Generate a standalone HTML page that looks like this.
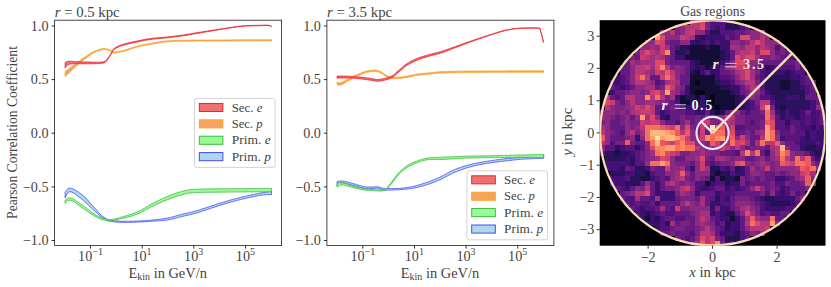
<!DOCTYPE html>
<html><head><meta charset="utf-8"><title>Pearson correlation</title>
<style>html,body{margin:0;padding:0;background:#fff;}body{width:831px;height:287px;overflow:hidden;position:relative;font-family:"Liberation Serif",serif;}</style>
</head><body>
<svg width="831" height="287" viewBox="0 0 831 287" style="position:absolute;left:0;top:0;font-family:'Liberation Serif',serif">
<rect width="831" height="287" fill="#fff"/>
<path d="M65.1,71.50 L66.4,70.59 L67.7,69.67 L69.0,68.74 L70.3,67.78 L71.6,66.80 L72.9,65.80 L74.2,64.80 L75.5,63.81 L76.8,62.84 L78.1,61.88 L79.4,60.91 L80.7,59.95 L82.0,59.00 L83.3,58.07 L84.6,57.16 L85.9,56.28 L87.2,55.45 L88.5,54.63 L89.8,53.80 L91.1,52.99 L92.4,52.22 L93.7,51.52 L95.0,50.92 L96.3,50.44 L97.6,49.98 L98.9,49.53 L100.1,49.13 L101.4,48.81 L102.7,48.59 L104.0,48.50 L105.3,48.57 L106.6,48.78 L107.9,49.09 L109.2,49.46 L110.5,50.02 L111.8,51.04 L113.1,51.91 L114.4,52.09 L115.7,51.98 L117.0,51.79 L118.3,51.54 L119.6,51.27 L120.9,51.00 L122.2,50.71 L123.5,50.39 L124.8,50.02 L126.1,49.62 L127.4,49.20 L128.7,48.77 L130.0,48.33 L131.3,47.89 L132.6,47.46 L133.9,47.04 L135.2,46.64 L136.5,46.28 L137.8,45.95 L139.1,45.65 L140.4,45.36 L141.7,45.07 L143.0,44.80 L144.3,44.53 L145.6,44.27 L146.9,44.02 L148.2,43.78 L149.5,43.55 L150.8,43.32 L152.1,43.10 L153.4,42.88 L154.7,42.65 L156.0,42.41 L157.3,42.18 L158.6,41.96 L159.9,41.74 L161.2,41.53 L162.5,41.34 L163.8,41.16 L165.1,41.01 L166.4,40.88 L167.7,40.77 L168.9,40.70 L170.2,40.65 L171.5,40.60 L172.8,40.55 L174.1,40.51 L175.4,40.46 L176.7,40.42 L178.0,40.39 L179.3,40.35 L180.6,40.32 L181.9,40.29 L183.2,40.26 L184.5,40.24 L185.8,40.21 L187.1,40.19 L188.4,40.17 L189.7,40.15 L191.0,40.14 L192.3,40.12 L193.6,40.11 L194.9,40.10 L196.2,40.09 L197.5,40.08 L198.8,40.07 L200.1,40.06 L201.4,40.05 L202.7,40.04 L204.0,40.03 L205.3,40.03 L206.6,40.02 L207.9,40.01 L209.2,40.00 L210.5,39.99 L211.8,39.98 L213.1,39.98 L214.4,39.97 L215.7,39.96 L217.0,39.95 L218.3,39.95 L219.6,39.94 L220.9,39.93 L222.2,39.93 L223.5,39.92 L224.8,39.91 L226.1,39.91 L227.4,39.90 L228.7,39.90 L230.0,39.89 L231.3,39.89 L232.6,39.88 L233.9,39.87 L235.2,39.87 L236.5,39.86 L237.7,39.86 L239.0,39.86 L240.3,39.85 L241.6,39.85 L242.9,39.84 L244.2,39.84 L245.5,39.84 L246.8,39.83 L248.1,39.83 L249.4,39.83 L250.7,39.82 L252.0,39.82 L253.3,39.82 L254.6,39.82 L255.9,39.81 L257.2,39.81 L258.5,39.81 L259.8,39.81 L261.1,39.81 L262.4,39.80 L263.7,39.80 L265.0,39.80 L266.3,39.80 L267.6,39.80 L268.9,39.80 L270.2,39.80 L271.5,39.80 L271.5,40.80 L270.2,40.80 L268.9,40.80 L267.6,40.80 L266.3,40.80 L265.0,40.80 L263.7,40.80 L262.4,40.80 L261.1,40.81 L259.8,40.81 L258.5,40.81 L257.2,40.81 L255.9,40.81 L254.6,40.82 L253.3,40.82 L252.0,40.82 L250.7,40.82 L249.4,40.83 L248.1,40.83 L246.8,40.83 L245.5,40.84 L244.2,40.84 L242.9,40.84 L241.6,40.85 L240.3,40.85 L239.0,40.86 L237.7,40.86 L236.5,40.86 L235.2,40.87 L233.9,40.87 L232.6,40.88 L231.3,40.89 L230.0,40.89 L228.7,40.90 L227.4,40.90 L226.1,40.91 L224.8,40.91 L223.5,40.92 L222.2,40.93 L220.9,40.93 L219.6,40.94 L218.3,40.95 L217.0,40.95 L215.7,40.96 L214.4,40.97 L213.1,40.98 L211.8,40.98 L210.5,40.99 L209.2,41.00 L207.9,41.01 L206.6,41.02 L205.3,41.03 L204.0,41.03 L202.7,41.04 L201.4,41.05 L200.1,41.06 L198.8,41.07 L197.5,41.08 L196.2,41.09 L194.9,41.10 L193.6,41.11 L192.3,41.12 L191.0,41.14 L189.7,41.15 L188.4,41.17 L187.1,41.19 L185.8,41.21 L184.5,41.24 L183.2,41.26 L181.9,41.29 L180.6,41.32 L179.3,41.35 L178.0,41.39 L176.7,41.42 L175.4,41.46 L174.1,41.51 L172.8,41.55 L171.5,41.60 L170.2,41.65 L168.9,41.70 L167.7,41.77 L166.4,41.88 L165.1,42.01 L163.8,42.16 L162.5,42.34 L161.2,42.53 L159.9,42.74 L158.6,42.96 L157.3,43.18 L156.0,43.41 L154.7,43.65 L153.4,43.88 L152.1,44.10 L150.8,44.32 L149.5,44.55 L148.2,44.78 L146.9,45.02 L145.6,45.27 L144.3,45.53 L143.0,45.80 L141.7,46.07 L140.4,46.36 L139.1,46.65 L137.8,46.95 L136.5,47.28 L135.2,47.64 L133.9,48.04 L132.6,48.46 L131.3,48.89 L130.0,49.33 L128.7,49.77 L127.4,50.20 L126.1,50.62 L124.8,51.02 L123.5,51.39 L122.2,51.71 L120.9,52.00 L119.6,52.27 L118.3,52.54 L117.0,52.79 L115.7,52.98 L114.4,53.09 L113.1,52.91 L111.8,52.04 L110.5,51.02 L109.2,50.46 L107.9,50.09 L106.6,49.78 L105.3,49.57 L104.0,49.50 L102.7,49.59 L101.4,49.83 L100.1,50.19 L98.9,50.63 L97.6,51.12 L96.3,51.62 L95.0,52.16 L93.7,52.83 L92.4,53.62 L91.1,54.48 L89.8,55.40 L88.5,56.34 L87.2,57.26 L85.9,58.20 L84.6,59.17 L83.3,60.17 L82.0,61.21 L80.7,62.26 L79.4,63.35 L78.1,64.45 L76.8,65.58 L75.5,66.73 L74.2,67.95 L72.9,69.21 L71.6,70.48 L70.3,71.73 L69.0,72.94 L67.7,74.13 L66.4,75.32 L65.1,76.50Z" fill="#f4a460" stroke="#ffa01a" stroke-width="0.72" stroke-linejoin="round"/>
<path d="M65.1,62.50 L66.4,61.70 L67.7,61.39 L69.0,61.24 L70.3,61.20 L71.6,61.27 L72.9,61.40 L74.2,61.55 L75.5,61.67 L76.8,61.73 L78.1,61.78 L79.4,61.82 L80.7,61.86 L82.0,61.89 L83.3,61.92 L84.6,61.95 L85.9,61.98 L87.2,62.00 L88.5,62.03 L89.8,62.07 L91.1,62.10 L92.4,62.13 L93.7,62.15 L95.0,62.18 L96.3,62.19 L97.6,62.20 L98.9,62.19 L100.1,62.13 L101.4,62.03 L102.7,61.89 L104.0,61.71 L105.3,61.11 L106.6,59.83 L107.9,58.14 L109.2,56.33 L110.5,54.38 L111.8,51.88 L113.1,49.59 L114.4,48.28 L115.7,47.40 L117.0,46.67 L118.3,46.08 L119.6,45.56 L120.9,45.09 L122.2,44.65 L123.5,44.24 L124.8,43.85 L126.1,43.49 L127.4,43.15 L128.7,42.83 L130.0,42.52 L131.3,42.23 L132.6,41.94 L133.9,41.67 L135.2,41.40 L136.5,41.13 L137.8,40.86 L139.1,40.59 L140.4,40.32 L141.7,40.06 L143.0,39.80 L144.3,39.55 L145.6,39.31 L146.9,39.08 L148.2,38.87 L149.5,38.67 L150.8,38.49 L152.1,38.33 L153.4,38.19 L154.7,38.05 L156.0,37.93 L157.3,37.81 L158.6,37.70 L159.9,37.60 L161.2,37.49 L162.5,37.39 L163.8,37.29 L165.1,37.18 L166.4,37.06 L167.7,36.94 L168.9,36.81 L170.2,36.66 L171.5,36.51 L172.8,36.36 L174.1,36.20 L175.4,36.04 L176.7,35.87 L178.0,35.70 L179.3,35.52 L180.6,35.34 L181.9,35.16 L183.2,34.97 L184.5,34.78 L185.8,34.58 L187.1,34.37 L188.4,34.15 L189.7,33.93 L191.0,33.71 L192.3,33.48 L193.6,33.26 L194.9,33.03 L196.2,32.80 L197.5,32.58 L198.8,32.36 L200.1,32.15 L201.4,31.94 L202.7,31.74 L204.0,31.53 L205.3,31.33 L206.6,31.14 L207.9,30.94 L209.2,30.74 L210.5,30.55 L211.8,30.35 L213.1,30.16 L214.4,29.96 L215.7,29.77 L217.0,29.57 L218.3,29.37 L219.6,29.17 L220.9,28.96 L222.2,28.76 L223.5,28.55 L224.8,28.35 L226.1,28.14 L227.4,27.94 L228.7,27.74 L230.0,27.55 L231.3,27.36 L232.6,27.18 L233.9,27.01 L235.2,26.83 L236.5,26.65 L237.7,26.47 L239.0,26.29 L240.3,26.12 L241.6,25.97 L242.9,25.84 L244.2,25.74 L245.5,25.68 L246.8,25.62 L248.1,25.57 L249.4,25.53 L250.7,25.49 L252.0,25.46 L253.3,25.43 L254.6,25.40 L255.9,25.37 L257.2,25.34 L258.5,25.31 L259.8,25.27 L261.1,25.23 L262.4,25.19 L263.7,25.16 L265.0,25.12 L266.3,25.11 L267.6,25.11 L268.9,25.30 L270.2,25.67 L271.5,26.10 L271.5,26.50 L270.2,26.07 L268.9,25.70 L267.6,25.51 L266.3,25.51 L265.0,25.52 L263.7,25.56 L262.4,25.59 L261.1,25.63 L259.8,25.67 L258.5,25.71 L257.2,25.74 L255.9,25.77 L254.6,25.80 L253.3,25.83 L252.0,25.86 L250.7,25.89 L249.4,25.93 L248.1,25.97 L246.8,26.02 L245.5,26.08 L244.2,26.14 L242.9,26.24 L241.6,26.37 L240.3,26.52 L239.0,26.68 L237.7,26.86 L236.5,27.05 L235.2,27.23 L233.9,27.41 L232.6,27.58 L231.3,27.77 L230.0,27.96 L228.7,28.16 L227.4,28.36 L226.1,28.57 L224.8,28.78 L223.5,28.99 L222.2,29.21 L220.9,29.42 L219.6,29.64 L218.3,29.86 L217.0,30.07 L215.7,30.28 L214.4,30.50 L213.1,30.72 L211.8,30.94 L210.5,31.16 L209.2,31.39 L207.9,31.61 L206.6,31.84 L205.3,32.06 L204.0,32.29 L202.7,32.51 L201.4,32.73 L200.1,32.95 L198.8,33.17 L197.5,33.40 L196.2,33.62 L194.9,33.85 L193.6,34.08 L192.3,34.30 L191.0,34.53 L189.7,34.75 L188.4,34.96 L187.1,35.17 L185.8,35.38 L184.5,35.58 L183.2,35.77 L181.9,35.95 L180.6,36.14 L179.3,36.31 L178.0,36.49 L176.7,36.66 L175.4,36.82 L174.1,36.99 L172.8,37.15 L171.5,37.30 L170.2,37.46 L168.9,37.61 L167.7,37.75 L166.4,37.89 L165.1,38.01 L163.8,38.14 L162.5,38.26 L161.2,38.38 L159.9,38.50 L158.6,38.62 L157.3,38.75 L156.0,38.88 L154.7,39.02 L153.4,39.17 L152.1,39.33 L150.8,39.50 L149.5,39.69 L148.2,39.89 L146.9,40.10 L145.6,40.33 L144.3,40.57 L143.0,40.81 L141.7,41.07 L140.4,41.33 L139.1,41.59 L137.8,41.86 L136.5,42.13 L135.2,42.40 L133.9,42.67 L132.6,42.94 L131.3,43.23 L130.0,43.52 L128.7,43.83 L127.4,44.15 L126.1,44.49 L124.8,44.85 L123.5,45.24 L122.2,45.65 L120.9,46.09 L119.6,46.56 L118.3,47.08 L117.0,47.67 L115.7,48.40 L114.4,49.28 L113.1,50.59 L111.8,52.86 L110.5,55.37 L109.2,57.34 L107.9,59.19 L106.6,60.92 L105.3,62.25 L104.0,62.91 L102.7,63.15 L101.4,63.34 L100.1,63.47 L98.9,63.56 L97.6,63.61 L96.3,63.66 L95.0,63.69 L93.7,63.72 L92.4,63.75 L91.1,63.77 L89.8,63.79 L88.5,63.80 L87.2,63.80 L85.9,63.80 L84.6,63.79 L83.3,63.77 L82.0,63.76 L80.7,63.74 L79.4,63.72 L78.1,63.71 L76.8,63.70 L75.5,63.70 L74.2,63.73 L72.9,63.78 L71.6,63.86 L70.3,63.97 L69.0,64.27 L67.7,65.00 L66.4,66.07 L65.1,67.90Z" fill="#ef7070" stroke="#ee1420" stroke-width="0.72" stroke-linejoin="round"/>
<path d="M65.1,192.30 L66.4,190.49 L67.7,188.95 L69.0,188.14 L70.3,188.16 L71.6,188.42 L72.9,188.86 L74.2,189.44 L75.5,190.14 L76.8,190.94 L78.1,191.81 L79.4,192.72 L80.7,193.64 L82.0,194.55 L83.3,195.57 L84.6,196.77 L85.9,198.11 L87.2,199.55 L88.5,201.06 L89.8,202.58 L91.1,204.09 L92.4,205.53 L93.7,206.89 L95.0,208.31 L96.3,209.78 L97.6,211.25 L98.9,212.69 L100.1,214.06 L101.4,215.32 L102.7,216.43 L104.0,217.36 L105.3,218.18 L106.6,218.94 L107.9,219.57 L109.2,220.01 L110.5,220.23 L111.8,220.42 L113.1,220.60 L114.4,220.76 L115.7,220.90 L117.0,221.01 L118.3,221.11 L119.6,221.19 L120.9,221.25 L122.2,221.29 L123.5,221.30 L124.8,221.30 L126.1,221.29 L127.4,221.27 L128.7,221.25 L130.0,221.22 L131.3,221.19 L132.6,221.15 L133.9,221.12 L135.2,221.08 L136.5,221.04 L137.8,220.99 L139.1,220.95 L140.4,220.89 L141.7,220.82 L143.0,220.74 L144.3,220.66 L145.6,220.57 L146.9,220.48 L148.2,220.38 L149.5,220.27 L150.8,220.16 L152.1,220.05 L153.4,219.93 L154.7,219.80 L156.0,219.66 L157.3,219.50 L158.6,219.34 L159.9,219.17 L161.2,218.99 L162.5,218.81 L163.8,218.61 L165.1,218.40 L166.4,218.19 L167.7,217.96 L168.9,217.72 L170.2,217.44 L171.5,217.13 L172.8,216.80 L174.1,216.45 L175.4,216.09 L176.7,215.72 L178.0,215.36 L179.3,215.01 L180.6,214.67 L181.9,214.35 L183.2,214.03 L184.5,213.73 L185.8,213.43 L187.1,213.13 L188.4,212.82 L189.7,212.52 L191.0,212.20 L192.3,211.88 L193.6,211.55 L194.9,211.20 L196.2,210.83 L197.5,210.45 L198.8,210.05 L200.1,209.64 L201.4,209.22 L202.7,208.80 L204.0,208.37 L205.3,207.94 L206.6,207.52 L207.9,207.09 L209.2,206.67 L210.5,206.25 L211.8,205.83 L213.1,205.40 L214.4,204.97 L215.7,204.54 L217.0,204.11 L218.3,203.69 L219.6,203.27 L220.9,202.86 L222.2,202.46 L223.5,202.07 L224.8,201.68 L226.1,201.30 L227.4,200.92 L228.7,200.55 L230.0,200.19 L231.3,199.82 L232.6,199.47 L233.9,199.12 L235.2,198.78 L236.5,198.44 L237.7,198.11 L239.0,197.78 L240.3,197.46 L241.6,197.15 L242.9,196.84 L244.2,196.53 L245.5,196.23 L246.8,195.93 L248.1,195.64 L249.4,195.36 L250.7,195.07 L252.0,194.79 L253.3,194.50 L254.6,194.22 L255.9,193.94 L257.2,193.66 L258.5,193.39 L259.8,193.13 L261.1,192.88 L262.4,192.64 L263.7,192.42 L265.0,192.22 L266.3,192.03 L267.6,191.86 L268.9,191.69 L270.2,191.54 L271.5,191.40 L271.5,194.50 L270.2,194.51 L268.9,194.55 L267.6,194.61 L266.3,194.69 L265.0,194.77 L263.7,194.86 L262.4,195.00 L261.1,195.17 L259.8,195.38 L258.5,195.62 L257.2,195.88 L255.9,196.15 L254.6,196.43 L253.3,196.72 L252.0,197.00 L250.7,197.27 L249.4,197.54 L248.1,197.82 L246.8,198.11 L245.5,198.40 L244.2,198.71 L242.9,199.02 L241.6,199.33 L240.3,199.65 L239.0,199.98 L237.7,200.31 L236.5,200.64 L235.2,200.98 L233.9,201.32 L232.6,201.67 L231.3,202.02 L230.0,202.39 L228.7,202.75 L227.4,203.12 L226.1,203.50 L224.8,203.88 L223.5,204.27 L222.2,204.66 L220.9,205.06 L219.6,205.47 L218.3,205.88 L217.0,206.31 L215.7,206.73 L214.4,207.16 L213.1,207.59 L211.8,208.02 L210.5,208.45 L209.2,208.87 L207.9,209.30 L206.6,209.73 L205.3,210.17 L204.0,210.61 L202.7,211.05 L201.4,211.49 L200.1,211.92 L198.8,212.34 L197.5,212.74 L196.2,213.13 L194.9,213.50 L193.6,213.84 L192.3,214.17 L191.0,214.49 L189.7,214.79 L188.4,215.09 L187.1,215.39 L185.8,215.68 L184.5,215.97 L183.2,216.26 L181.9,216.56 L180.6,216.86 L179.3,217.19 L178.0,217.54 L176.7,217.90 L175.4,218.26 L174.1,218.61 L172.8,218.95 L171.5,219.26 L170.2,219.53 L168.9,219.76 L167.7,219.94 L166.4,220.10 L165.1,220.24 L163.8,220.37 L162.5,220.50 L161.2,220.61 L159.9,220.71 L158.6,220.81 L157.3,220.91 L156.0,221.00 L154.7,221.09 L153.4,221.17 L152.1,221.26 L150.8,221.35 L149.5,221.44 L148.2,221.53 L146.9,221.61 L145.6,221.70 L144.3,221.78 L143.0,221.86 L141.7,221.93 L140.4,221.99 L139.1,222.05 L137.8,222.09 L136.5,222.13 L135.2,222.17 L133.9,222.21 L132.6,222.25 L131.3,222.29 L130.0,222.32 L128.7,222.35 L127.4,222.37 L126.1,222.39 L124.8,222.40 L123.5,222.40 L122.2,222.39 L120.9,222.36 L119.6,222.30 L118.3,222.23 L117.0,222.14 L115.7,222.03 L114.4,221.90 L113.1,221.76 L111.8,221.60 L110.5,221.42 L109.2,221.21 L107.9,220.78 L106.6,220.16 L105.3,219.43 L104.0,218.67 L102.7,217.85 L101.4,216.93 L100.1,215.91 L98.9,214.82 L97.6,213.69 L96.3,212.52 L95.0,211.35 L93.7,210.18 L92.4,209.03 L91.1,207.81 L89.8,206.53 L88.5,205.23 L87.2,203.92 L85.9,202.64 L84.6,201.42 L83.3,200.28 L82.0,199.26 L80.7,198.27 L79.4,197.24 L78.1,196.19 L76.8,195.17 L75.5,194.22 L74.2,193.36 L72.9,192.64 L71.6,192.10 L70.3,191.78 L69.0,191.75 L67.7,192.97 L66.4,195.25 L65.1,197.90Z" fill="#add8e6" stroke="#3a3aff" stroke-width="0.72" stroke-linejoin="round"/>
<path d="M65.1,200.10 L66.4,199.11 L67.7,198.32 L69.0,197.92 L70.3,197.98 L71.6,198.28 L72.9,198.79 L74.2,199.47 L75.5,200.27 L76.8,201.16 L78.1,202.10 L79.4,203.05 L80.7,203.98 L82.0,204.85 L83.3,205.74 L84.6,206.72 L85.9,207.75 L87.2,208.82 L88.5,209.89 L89.8,210.93 L91.1,211.91 L92.4,212.80 L93.7,213.60 L95.0,214.38 L96.3,215.16 L97.6,215.91 L98.9,216.62 L100.1,217.27 L101.4,217.84 L102.7,218.32 L104.0,218.69 L105.3,218.99 L106.6,219.26 L107.9,219.48 L109.2,219.59 L110.5,219.58 L111.8,219.48 L113.1,219.30 L114.4,219.05 L115.7,218.75 L117.0,218.41 L118.3,218.05 L119.6,217.66 L120.9,217.27 L122.2,216.89 L123.5,216.52 L124.8,216.17 L126.1,215.80 L127.4,215.42 L128.7,215.03 L130.0,214.61 L131.3,214.18 L132.6,213.73 L133.9,213.26 L135.2,212.77 L136.5,212.26 L137.8,211.72 L139.1,211.12 L140.4,210.46 L141.7,209.75 L143.0,209.00 L144.3,208.22 L145.6,207.43 L146.9,206.64 L148.2,205.86 L149.5,205.10 L150.8,204.38 L152.1,203.71 L153.4,203.04 L154.7,202.38 L156.0,201.72 L157.3,201.08 L158.6,200.44 L159.9,199.81 L161.2,199.19 L162.5,198.59 L163.8,198.00 L165.1,197.43 L166.4,196.87 L167.7,196.34 L168.9,195.82 L170.2,195.31 L171.5,194.80 L172.8,194.30 L174.1,193.82 L175.4,193.36 L176.7,192.92 L178.0,192.50 L179.3,192.12 L180.6,191.77 L181.9,191.44 L183.2,191.11 L184.5,190.79 L185.8,190.49 L187.1,190.21 L188.4,189.96 L189.7,189.75 L191.0,189.59 L192.3,189.49 L193.6,189.41 L194.9,189.34 L196.2,189.27 L197.5,189.21 L198.8,189.16 L200.1,189.11 L201.4,189.06 L202.7,189.02 L204.0,188.99 L205.3,188.96 L206.6,188.93 L207.9,188.91 L209.2,188.90 L210.5,188.88 L211.8,188.87 L213.1,188.85 L214.4,188.84 L215.7,188.83 L217.0,188.82 L218.3,188.81 L219.6,188.80 L220.9,188.79 L222.2,188.79 L223.5,188.78 L224.8,188.77 L226.1,188.76 L227.4,188.76 L228.7,188.75 L230.0,188.74 L231.3,188.74 L232.6,188.73 L233.9,188.72 L235.2,188.71 L236.5,188.70 L237.7,188.69 L239.0,188.68 L240.3,188.67 L241.6,188.66 L242.9,188.65 L244.2,188.64 L245.5,188.63 L246.8,188.62 L248.1,188.61 L249.4,188.60 L250.7,188.59 L252.0,188.57 L253.3,188.56 L254.6,188.55 L255.9,188.54 L257.2,188.53 L258.5,188.52 L259.8,188.51 L261.1,188.49 L262.4,188.48 L263.7,188.47 L265.0,188.46 L266.3,188.45 L267.6,188.44 L268.9,188.42 L270.2,188.41 L271.5,188.40 L271.5,191.70 L270.2,191.71 L268.9,191.72 L267.6,191.73 L266.3,191.74 L265.0,191.75 L263.7,191.76 L262.4,191.77 L261.1,191.78 L259.8,191.79 L258.5,191.80 L257.2,191.81 L255.9,191.82 L254.6,191.84 L253.3,191.85 L252.0,191.86 L250.7,191.87 L249.4,191.88 L248.1,191.89 L246.8,191.90 L245.5,191.92 L244.2,191.93 L242.9,191.94 L241.6,191.95 L240.3,191.96 L239.0,191.98 L237.7,191.99 L236.5,192.00 L235.2,192.01 L233.9,192.03 L232.6,192.04 L231.3,192.05 L230.0,192.06 L228.7,192.07 L227.4,192.08 L226.1,192.09 L224.8,192.11 L223.5,192.12 L222.2,192.13 L220.9,192.14 L219.6,192.16 L218.3,192.17 L217.0,192.19 L215.7,192.20 L214.4,192.22 L213.1,192.24 L211.8,192.25 L210.5,192.27 L209.2,192.29 L207.9,192.32 L206.6,192.34 L205.3,192.36 L204.0,192.39 L202.7,192.41 L201.4,192.45 L200.1,192.48 L198.8,192.52 L197.5,192.56 L196.2,192.61 L194.9,192.66 L193.6,192.72 L192.3,192.79 L191.0,192.88 L189.7,193.05 L188.4,193.27 L187.1,193.53 L185.8,193.83 L184.5,194.15 L183.2,194.49 L181.9,194.83 L180.6,195.17 L179.3,195.52 L178.0,195.91 L176.7,196.32 L175.4,196.75 L174.1,197.20 L172.8,197.67 L171.5,198.15 L170.2,198.64 L168.9,199.14 L167.7,199.63 L166.4,200.14 L165.1,200.67 L163.8,201.21 L162.5,201.76 L161.2,202.33 L159.9,202.90 L158.6,203.49 L157.3,204.08 L156.0,204.69 L154.7,205.29 L153.4,205.91 L152.1,206.53 L150.8,207.15 L149.5,207.82 L148.2,208.53 L146.9,209.25 L145.6,209.99 L144.3,210.72 L143.0,211.44 L141.7,212.13 L140.4,212.78 L139.1,213.39 L137.8,213.93 L136.5,214.41 L135.2,214.88 L133.9,215.32 L132.6,215.75 L131.3,216.16 L130.0,216.55 L128.7,216.92 L127.4,217.27 L126.1,217.60 L124.8,217.92 L123.5,218.22 L122.2,218.52 L120.9,218.84 L119.6,219.15 L118.3,219.46 L117.0,219.76 L115.7,220.03 L114.4,220.27 L113.1,220.46 L111.8,220.60 L110.5,220.68 L109.2,220.69 L107.9,220.62 L106.6,220.48 L105.3,220.30 L104.0,220.09 L102.7,219.80 L101.4,219.39 L100.1,218.87 L98.9,218.27 L97.6,217.61 L96.3,216.91 L95.0,216.18 L93.7,215.46 L92.4,214.74 L91.1,213.96 L89.8,213.11 L88.5,212.20 L87.2,211.28 L85.9,210.34 L84.6,209.41 L83.3,208.50 L82.0,207.65 L80.7,206.77 L79.4,205.80 L78.1,204.78 L76.8,203.75 L75.5,202.77 L74.2,201.87 L72.9,201.12 L71.6,200.54 L70.3,200.19 L69.0,200.13 L67.7,200.75 L66.4,201.95 L65.1,203.40Z" fill="#98fb98" stroke="#2fb52f" stroke-width="0.72" stroke-linejoin="round"/>
<path d="M337.1,81.80 L338.4,82.55 L339.7,82.79 L341.0,82.58 L342.3,82.12 L343.6,81.50 L344.9,80.77 L346.2,80.02 L347.5,79.30 L348.8,78.67 L350.1,78.04 L351.4,77.37 L352.7,76.70 L354.0,76.02 L355.3,75.36 L356.6,74.72 L357.9,74.12 L359.2,73.58 L360.5,73.08 L361.8,72.58 L363.1,72.10 L364.4,71.66 L365.7,71.27 L367.0,70.96 L368.3,70.72 L369.6,70.50 L370.9,70.31 L372.2,70.14 L373.5,70.04 L374.8,70.00 L376.1,70.12 L377.4,70.41 L378.7,70.82 L380.0,71.28 L381.3,71.86 L382.6,72.72 L383.9,73.70 L385.2,74.60 L386.5,75.29 L387.8,75.98 L389.1,76.61 L390.4,77.06 L391.7,77.20 L393.0,77.20 L394.3,77.20 L395.6,77.20 L396.9,77.20 L398.2,77.20 L399.5,77.17 L400.8,77.06 L402.1,76.89 L403.4,76.69 L404.7,76.46 L406.0,76.24 L407.3,76.02 L408.6,75.79 L409.9,75.52 L411.2,75.23 L412.5,74.94 L413.8,74.65 L415.1,74.38 L416.4,74.14 L417.7,73.93 L419.0,73.77 L420.3,73.62 L421.6,73.49 L422.9,73.36 L424.2,73.25 L425.5,73.13 L426.8,73.02 L428.1,72.90 L429.4,72.77 L430.7,72.63 L432.0,72.48 L433.3,72.32 L434.6,72.17 L435.9,72.02 L437.2,71.89 L438.5,71.79 L439.8,71.71 L441.0,71.66 L442.3,71.61 L443.6,71.56 L444.9,71.52 L446.2,71.48 L447.5,71.44 L448.8,71.40 L450.1,71.37 L451.4,71.34 L452.7,71.31 L454.0,71.28 L455.3,71.25 L456.6,71.23 L457.9,71.21 L459.2,71.18 L460.5,71.17 L461.8,71.15 L463.1,71.13 L464.4,71.12 L465.7,71.11 L467.0,71.10 L468.3,71.09 L469.6,71.08 L470.9,71.07 L472.2,71.06 L473.5,71.05 L474.8,71.04 L476.1,71.03 L477.4,71.03 L478.7,71.02 L480.0,71.01 L481.3,71.00 L482.6,70.99 L483.9,70.99 L485.2,70.98 L486.5,70.97 L487.8,70.96 L489.1,70.96 L490.4,70.95 L491.7,70.94 L493.0,70.93 L494.3,70.93 L495.6,70.92 L496.9,70.91 L498.2,70.91 L499.5,70.90 L500.8,70.90 L502.1,70.89 L503.4,70.89 L504.7,70.88 L506.0,70.88 L507.3,70.87 L508.6,70.87 L509.9,70.86 L511.2,70.86 L512.5,70.85 L513.8,70.85 L515.1,70.84 L516.4,70.84 L517.7,70.84 L519.0,70.83 L520.3,70.83 L521.6,70.83 L522.9,70.82 L524.2,70.82 L525.5,70.82 L526.8,70.82 L528.1,70.81 L529.4,70.81 L530.7,70.81 L532.0,70.81 L533.3,70.81 L534.6,70.80 L535.9,70.80 L537.2,70.80 L538.5,70.80 L539.8,70.80 L541.1,70.80 L542.4,70.80 L543.7,70.80 L543.7,72.20 L542.4,72.20 L541.1,72.20 L539.8,72.20 L538.5,72.20 L537.2,72.20 L535.9,72.20 L534.6,72.20 L533.3,72.21 L532.0,72.21 L530.7,72.21 L529.4,72.21 L528.1,72.21 L526.8,72.22 L525.5,72.22 L524.2,72.22 L522.9,72.22 L521.6,72.23 L520.3,72.23 L519.0,72.23 L517.7,72.24 L516.4,72.24 L515.1,72.24 L513.8,72.25 L512.5,72.25 L511.2,72.26 L509.9,72.26 L508.6,72.27 L507.3,72.27 L506.0,72.28 L504.7,72.28 L503.4,72.29 L502.1,72.29 L500.8,72.30 L499.5,72.30 L498.2,72.31 L496.9,72.31 L495.6,72.32 L494.3,72.33 L493.0,72.33 L491.7,72.34 L490.4,72.35 L489.1,72.36 L487.8,72.36 L486.5,72.37 L485.2,72.38 L483.9,72.39 L482.6,72.39 L481.3,72.40 L480.0,72.41 L478.7,72.42 L477.4,72.43 L476.1,72.43 L474.8,72.44 L473.5,72.45 L472.2,72.46 L470.9,72.47 L469.6,72.48 L468.3,72.49 L467.0,72.50 L465.7,72.51 L464.4,72.52 L463.1,72.53 L461.8,72.55 L460.5,72.57 L459.2,72.58 L457.9,72.61 L456.6,72.63 L455.3,72.65 L454.0,72.68 L452.7,72.71 L451.4,72.74 L450.1,72.77 L448.8,72.80 L447.5,72.84 L446.2,72.88 L444.9,72.92 L443.6,72.96 L442.3,73.01 L441.0,73.06 L439.8,73.11 L438.5,73.19 L437.2,73.29 L435.9,73.42 L434.6,73.57 L433.3,73.72 L432.0,73.88 L430.7,74.03 L429.4,74.17 L428.1,74.30 L426.8,74.42 L425.5,74.53 L424.2,74.65 L422.9,74.76 L421.6,74.89 L420.3,75.02 L419.0,75.17 L417.7,75.33 L416.4,75.54 L415.1,75.78 L413.8,76.05 L412.5,76.34 L411.2,76.63 L409.9,76.92 L408.6,77.19 L407.3,77.42 L406.0,77.64 L404.7,77.86 L403.4,78.09 L402.1,78.29 L400.8,78.46 L399.5,78.57 L398.2,78.60 L396.9,78.60 L395.6,78.60 L394.3,78.60 L393.0,78.60 L391.7,78.60 L390.4,78.46 L389.1,78.01 L387.8,77.38 L386.5,76.69 L385.2,76.00 L383.9,75.10 L382.6,74.12 L381.3,73.26 L380.0,72.68 L378.7,72.22 L377.4,71.81 L376.1,71.52 L374.8,71.40 L373.5,71.44 L372.2,71.54 L370.9,71.70 L369.6,71.90 L368.3,72.12 L367.0,72.36 L365.7,72.70 L364.4,73.11 L363.1,73.59 L361.8,74.11 L360.5,74.65 L359.2,75.19 L357.9,75.77 L356.6,76.41 L355.3,77.09 L354.0,77.80 L352.7,78.52 L351.4,79.25 L350.1,79.96 L348.8,80.65 L347.5,81.33 L346.2,82.12 L344.9,82.96 L343.6,83.76 L342.3,84.45 L341.0,84.95 L339.7,85.19 L338.4,85.06 L337.1,84.60Z" fill="#f4a460" stroke="#ffa01a" stroke-width="0.72" stroke-linejoin="round"/>
<path d="M337.1,76.00 L338.4,76.00 L339.6,76.01 L340.9,76.03 L342.2,76.05 L343.5,76.08 L344.7,76.10 L346.0,76.14 L347.3,76.17 L348.6,76.21 L349.8,76.26 L351.1,76.32 L352.4,76.41 L353.7,76.50 L354.9,76.60 L356.2,76.71 L357.5,76.83 L358.8,76.94 L360.0,77.06 L361.3,77.19 L362.6,77.33 L363.9,77.49 L365.1,77.65 L366.4,77.82 L367.7,77.99 L369.0,78.17 L370.2,78.35 L371.5,78.55 L372.8,78.81 L374.1,79.08 L375.3,79.31 L376.6,79.46 L377.9,79.49 L379.2,79.41 L380.4,79.23 L381.7,78.99 L383.0,78.73 L384.3,78.45 L385.5,78.17 L386.8,77.85 L388.1,77.48 L389.4,77.06 L390.6,76.57 L391.9,75.99 L393.2,75.17 L394.5,74.14 L395.7,72.99 L397.0,71.81 L398.3,70.69 L399.6,69.62 L400.8,68.50 L402.1,67.38 L403.4,66.28 L404.7,65.23 L405.9,64.27 L407.2,63.44 L408.5,62.67 L409.8,61.93 L411.0,61.24 L412.3,60.58 L413.6,59.95 L414.9,59.36 L416.1,58.81 L417.4,58.29 L418.7,57.80 L420.0,57.34 L421.2,56.91 L422.5,56.51 L423.8,56.12 L425.1,55.74 L426.3,55.38 L427.6,55.02 L428.9,54.66 L430.2,54.31 L431.4,53.98 L432.7,53.66 L434.0,53.35 L435.3,53.04 L436.5,52.73 L437.8,52.40 L439.1,52.06 L440.4,51.69 L441.6,51.31 L442.9,50.90 L444.2,50.48 L445.5,50.05 L446.7,49.61 L448.0,49.15 L449.3,48.70 L450.6,48.24 L451.8,47.78 L453.1,47.32 L454.4,46.86 L455.7,46.41 L456.9,45.97 L458.2,45.52 L459.5,45.07 L460.8,44.61 L462.0,44.16 L463.3,43.70 L464.6,43.24 L465.9,42.79 L467.1,42.34 L468.4,41.88 L469.7,41.44 L471.0,40.99 L472.2,40.56 L473.5,40.12 L474.8,39.69 L476.1,39.26 L477.3,38.83 L478.6,38.40 L479.9,37.97 L481.2,37.55 L482.4,37.13 L483.7,36.71 L485.0,36.30 L486.3,35.89 L487.5,35.49 L488.8,35.09 L490.1,34.69 L491.4,34.29 L492.6,33.88 L493.9,33.47 L495.2,33.05 L496.5,32.65 L497.7,32.25 L499.0,31.86 L500.3,31.49 L501.6,31.14 L502.8,30.80 L504.1,30.49 L505.4,30.21 L506.7,29.95 L507.9,29.70 L509.2,29.45 L510.5,29.21 L511.8,28.99 L513.0,28.79 L514.3,28.62 L515.6,28.47 L516.9,28.36 L518.1,28.27 L519.4,28.19 L520.7,28.11 L522.0,28.03 L523.2,27.97 L524.5,27.92 L525.8,27.88 L527.1,27.86 L528.3,27.85 L529.6,27.85 L530.9,27.85 L532.2,27.86 L533.4,27.87 L534.7,27.89 L536.0,27.91 L537.3,27.95 L538.5,27.99 L539.8,28.05 L541.8,35.15 L543.5,42.15 L543.5,42.45 L541.8,35.45 L539.8,28.35 L538.5,28.29 L537.3,28.25 L536.0,28.21 L534.7,28.19 L533.4,28.17 L532.2,28.16 L530.9,28.15 L529.6,28.15 L528.3,28.15 L527.1,28.16 L525.8,28.18 L524.5,28.22 L523.2,28.27 L522.0,28.33 L520.7,28.41 L519.4,28.49 L518.1,28.57 L516.9,28.66 L515.6,28.78 L514.3,28.93 L513.0,29.11 L511.8,29.33 L510.5,29.56 L509.2,29.81 L507.9,30.07 L506.7,30.34 L505.4,30.61 L504.1,30.91 L502.8,31.23 L501.6,31.58 L500.3,31.95 L499.0,32.34 L497.7,32.74 L496.5,33.16 L495.2,33.58 L493.9,34.01 L492.6,34.43 L491.4,34.86 L490.1,35.28 L488.8,35.69 L487.5,36.11 L486.3,36.52 L485.0,36.95 L483.7,37.37 L482.4,37.80 L481.2,38.23 L479.9,38.67 L478.6,39.11 L477.3,39.55 L476.1,40.00 L474.8,40.45 L473.5,40.90 L472.2,41.36 L471.0,41.82 L469.7,42.29 L468.4,42.76 L467.1,43.24 L465.9,43.73 L464.6,44.21 L463.3,44.70 L462.0,45.19 L460.8,45.68 L459.5,46.17 L458.2,46.65 L456.9,47.14 L455.7,47.61 L454.4,48.10 L453.1,48.59 L451.8,49.09 L450.6,49.59 L449.3,50.09 L448.0,50.58 L446.7,51.07 L445.5,51.55 L444.2,52.01 L442.9,52.46 L441.6,52.89 L440.4,53.29 L439.1,53.67 L437.8,54.01 L436.5,54.33 L435.3,54.64 L434.0,54.95 L432.7,55.25 L431.4,55.57 L430.2,55.90 L428.9,56.26 L427.6,56.63 L426.3,57.01 L425.1,57.40 L423.8,57.80 L422.5,58.22 L421.2,58.65 L420.0,59.11 L418.7,59.59 L417.4,60.10 L416.1,60.63 L414.9,61.19 L413.6,61.77 L412.3,62.39 L411.0,63.05 L409.8,63.74 L408.5,64.47 L407.2,65.24 L405.9,66.07 L404.7,67.03 L403.4,68.08 L402.1,69.18 L400.8,70.30 L399.6,71.42 L398.3,72.49 L397.0,73.61 L395.7,74.79 L394.5,75.94 L393.2,76.97 L391.9,77.79 L390.6,78.37 L389.4,78.86 L388.1,79.28 L386.8,79.65 L385.5,79.97 L384.3,80.25 L383.0,80.53 L381.7,80.79 L380.4,81.03 L379.2,81.21 L377.9,81.29 L376.6,81.26 L375.3,81.11 L374.1,80.88 L372.8,80.61 L371.5,80.35 L370.2,80.15 L369.0,79.97 L367.7,79.79 L366.4,79.62 L365.1,79.45 L363.9,79.29 L362.6,79.13 L361.3,78.99 L360.0,78.86 L358.8,78.74 L357.5,78.62 L356.2,78.49 L354.9,78.37 L353.7,78.26 L352.4,78.16 L351.1,78.08 L349.8,78.03 L348.6,78.00 L347.3,78.00 L346.0,78.00 L344.7,78.01 L343.5,78.02 L342.2,78.03 L340.9,78.06 L339.6,78.09 L338.4,78.14 L337.1,78.20Z" fill="#ef7070" stroke="#ee1420" stroke-width="0.72" stroke-linejoin="round"/>
<path d="M337.1,181.50 L338.4,181.26 L339.7,181.09 L341.0,181.00 L342.3,181.03 L343.6,181.17 L344.9,181.39 L346.2,181.67 L347.5,182.01 L348.8,182.38 L350.1,182.76 L351.4,183.14 L352.7,183.50 L354.0,183.82 L355.3,184.15 L356.6,184.52 L357.9,184.92 L359.2,185.34 L360.5,185.74 L361.8,186.12 L363.1,186.46 L364.4,186.75 L365.7,186.96 L367.0,187.08 L368.3,187.10 L369.6,187.07 L370.9,187.03 L372.2,186.97 L373.5,186.91 L374.8,186.86 L376.1,186.82 L377.4,186.80 L378.7,186.93 L380.0,187.29 L381.3,187.75 L382.6,188.19 L383.9,188.46 L385.2,188.50 L386.5,188.50 L387.8,188.50 L389.1,188.50 L390.4,188.50 L391.7,188.50 L393.0,188.50 L394.3,188.50 L395.6,188.50 L396.9,188.48 L398.2,188.43 L399.5,188.35 L400.8,188.24 L402.1,188.11 L403.4,187.96 L404.7,187.80 L406.0,187.62 L407.3,187.44 L408.6,187.25 L409.9,187.06 L411.2,186.84 L412.5,186.59 L413.8,186.30 L415.1,185.98 L416.4,185.64 L417.7,185.27 L419.0,184.89 L420.3,184.50 L421.6,184.10 L422.9,183.70 L424.2,183.29 L425.5,182.87 L426.8,182.43 L428.1,181.98 L429.4,181.50 L430.7,181.01 L432.0,180.50 L433.3,179.98 L434.6,179.45 L435.9,178.91 L437.2,178.35 L438.5,177.79 L439.8,177.21 L441.0,176.61 L442.3,175.96 L443.6,175.27 L444.9,174.56 L446.2,173.83 L447.5,173.10 L448.8,172.39 L450.1,171.70 L451.4,171.06 L452.7,170.47 L454.0,169.92 L455.3,169.39 L456.6,168.87 L457.9,168.36 L459.2,167.88 L460.5,167.41 L461.8,166.96 L463.1,166.53 L464.4,166.12 L465.7,165.73 L467.0,165.36 L468.3,165.02 L469.6,164.68 L470.9,164.36 L472.2,164.06 L473.5,163.76 L474.8,163.48 L476.1,163.21 L477.4,162.95 L478.7,162.69 L480.0,162.44 L481.3,162.20 L482.6,161.97 L483.9,161.74 L485.2,161.52 L486.5,161.31 L487.8,161.11 L489.1,160.91 L490.4,160.71 L491.7,160.52 L493.0,160.33 L494.3,160.15 L495.6,159.97 L496.9,159.80 L498.2,159.62 L499.5,159.45 L500.8,159.28 L502.1,159.12 L503.4,158.96 L504.7,158.81 L506.0,158.66 L507.3,158.53 L508.6,158.40 L509.9,158.28 L511.2,158.17 L512.5,158.06 L513.8,157.96 L515.1,157.86 L516.4,157.76 L517.7,157.67 L519.0,157.57 L520.3,157.48 L521.6,157.38 L522.9,157.28 L524.2,157.17 L525.5,157.07 L526.8,156.96 L528.1,156.86 L529.4,156.76 L530.7,156.65 L532.0,156.55 L533.3,156.44 L534.6,156.34 L535.9,156.23 L537.2,156.13 L538.5,156.02 L539.8,155.92 L541.1,155.81 L542.4,155.71 L543.7,155.60 L543.7,158.40 L542.4,158.41 L541.1,158.42 L539.8,158.44 L538.5,158.47 L537.2,158.50 L535.9,158.55 L534.6,158.59 L533.3,158.65 L532.0,158.70 L530.7,158.76 L529.4,158.83 L528.1,158.90 L526.8,158.96 L525.5,159.04 L524.2,159.11 L522.9,159.18 L521.6,159.26 L520.3,159.36 L519.0,159.47 L517.7,159.59 L516.4,159.72 L515.1,159.86 L513.8,160.01 L512.5,160.15 L511.2,160.30 L509.9,160.45 L508.6,160.60 L507.3,160.74 L506.0,160.89 L504.7,161.04 L503.4,161.19 L502.1,161.34 L500.8,161.50 L499.5,161.66 L498.2,161.83 L496.9,162.00 L495.6,162.17 L494.3,162.35 L493.0,162.53 L491.7,162.72 L490.4,162.90 L489.1,163.10 L487.8,163.29 L486.5,163.50 L485.2,163.71 L483.9,163.93 L482.6,164.16 L481.3,164.40 L480.0,164.65 L478.7,164.91 L477.4,165.19 L476.1,165.48 L474.8,165.78 L473.5,166.10 L472.2,166.42 L470.9,166.76 L469.6,167.12 L468.3,167.48 L467.0,167.86 L465.7,168.26 L464.4,168.68 L463.1,169.12 L461.8,169.58 L460.5,170.06 L459.2,170.56 L457.9,171.08 L456.6,171.61 L455.3,172.15 L454.0,172.70 L452.7,173.27 L451.4,173.87 L450.1,174.52 L448.8,175.21 L447.5,175.91 L446.2,176.63 L444.9,177.34 L443.6,178.04 L442.3,178.71 L441.0,179.33 L439.8,179.91 L438.5,180.45 L437.2,180.98 L435.9,181.50 L434.6,182.01 L433.3,182.51 L432.0,182.99 L430.7,183.45 L429.4,183.90 L428.1,184.33 L426.8,184.75 L425.5,185.14 L424.2,185.52 L422.9,185.88 L421.6,186.23 L420.3,186.58 L419.0,186.92 L417.7,187.25 L416.4,187.57 L415.1,187.86 L413.8,188.13 L412.5,188.38 L411.2,188.59 L409.9,188.77 L408.6,188.92 L407.3,189.06 L406.0,189.19 L404.7,189.31 L403.4,189.42 L402.1,189.53 L400.8,189.62 L399.5,189.70 L398.2,189.78 L396.9,189.85 L395.6,189.90 L394.3,189.95 L393.0,190.00 L391.7,190.05 L390.4,190.09 L389.1,190.13 L387.8,190.16 L386.5,190.19 L385.2,190.20 L383.9,190.16 L382.6,189.83 L381.3,189.32 L380.0,188.77 L378.7,188.35 L377.4,188.20 L376.1,188.23 L374.8,188.31 L373.5,188.42 L372.2,188.54 L370.9,188.66 L369.6,188.75 L368.3,188.80 L367.0,188.78 L365.7,188.67 L364.4,188.47 L363.1,188.21 L361.8,187.89 L360.5,187.54 L359.2,187.16 L357.9,186.77 L356.6,186.39 L355.3,186.04 L354.0,185.72 L352.7,185.41 L351.4,185.05 L350.1,184.68 L348.8,184.29 L347.5,183.92 L346.2,183.58 L344.9,183.29 L343.6,183.07 L342.3,182.93 L341.0,182.92 L339.7,183.47 L338.4,184.51 L337.1,185.70Z" fill="#add8e6" stroke="#3a3aff" stroke-width="0.72" stroke-linejoin="round"/>
<path d="M337.1,182.90 L338.4,182.90 L339.7,182.90 L341.0,182.90 L342.3,182.95 L343.6,183.14 L344.9,183.45 L346.2,183.84 L347.5,184.30 L348.8,184.80 L350.1,185.29 L351.4,185.76 L352.7,186.18 L354.0,186.52 L355.3,186.82 L356.6,187.11 L357.9,187.41 L359.2,187.69 L360.5,187.97 L361.8,188.23 L363.1,188.46 L364.4,188.68 L365.7,188.87 L367.0,189.02 L368.3,189.14 L369.6,189.26 L370.9,189.37 L372.2,189.47 L373.5,189.57 L374.8,189.65 L376.1,189.73 L377.4,189.80 L378.7,189.85 L380.0,189.88 L381.3,189.90 L382.6,189.82 L383.9,189.44 L385.2,188.86 L386.5,188.14 L387.8,186.89 L389.1,185.25 L390.4,183.47 L391.7,181.79 L393.0,180.10 L394.3,178.33 L395.6,176.55 L396.9,174.86 L398.2,173.34 L399.5,172.01 L400.8,170.74 L402.1,169.53 L403.4,168.41 L404.7,167.38 L406.0,166.44 L407.3,165.61 L408.6,164.84 L409.9,164.11 L411.2,163.43 L412.5,162.79 L413.8,162.19 L415.1,161.64 L416.4,161.14 L417.7,160.68 L419.0,160.25 L420.3,159.83 L421.6,159.42 L422.9,159.03 L424.2,158.67 L425.5,158.36 L426.8,158.10 L428.1,157.91 L429.4,157.78 L430.7,157.69 L432.0,157.62 L433.3,157.56 L434.6,157.50 L435.9,157.46 L437.2,157.41 L438.5,157.36 L439.8,157.31 L441.0,157.25 L442.3,157.20 L443.6,157.14 L444.9,157.08 L446.2,157.02 L447.5,156.96 L448.8,156.90 L450.1,156.84 L451.4,156.79 L452.7,156.73 L454.0,156.67 L455.3,156.62 L456.6,156.56 L457.9,156.51 L459.2,156.46 L460.5,156.41 L461.8,156.36 L463.1,156.32 L464.4,156.27 L465.7,156.23 L467.0,156.20 L468.3,156.16 L469.6,156.13 L470.9,156.09 L472.2,156.06 L473.5,156.03 L474.8,156.00 L476.1,155.97 L477.4,155.95 L478.7,155.92 L480.0,155.89 L481.3,155.87 L482.6,155.84 L483.9,155.82 L485.2,155.79 L486.5,155.77 L487.8,155.74 L489.1,155.72 L490.4,155.69 L491.7,155.66 L493.0,155.64 L494.3,155.61 L495.6,155.58 L496.9,155.55 L498.2,155.52 L499.5,155.49 L500.8,155.47 L502.1,155.44 L503.4,155.41 L504.7,155.38 L506.0,155.35 L507.3,155.32 L508.6,155.29 L509.9,155.26 L511.2,155.23 L512.5,155.21 L513.8,155.18 L515.1,155.15 L516.4,155.12 L517.7,155.09 L519.0,155.06 L520.3,155.03 L521.6,155.00 L522.9,154.97 L524.2,154.94 L525.5,154.91 L526.8,154.89 L528.1,154.86 L529.4,154.83 L530.7,154.80 L532.0,154.77 L533.3,154.74 L534.6,154.71 L535.9,154.68 L537.2,154.65 L538.5,154.62 L539.8,154.59 L541.1,154.56 L542.4,154.53 L543.7,154.50 L543.7,157.30 L542.4,157.30 L541.1,157.30 L539.8,157.30 L538.5,157.30 L537.2,157.31 L535.9,157.31 L534.6,157.31 L533.3,157.32 L532.0,157.32 L530.7,157.33 L529.4,157.33 L528.1,157.34 L526.8,157.35 L525.5,157.35 L524.2,157.36 L522.9,157.37 L521.6,157.38 L520.3,157.38 L519.0,157.39 L517.7,157.40 L516.4,157.41 L515.1,157.42 L513.8,157.43 L512.5,157.44 L511.2,157.45 L509.9,157.46 L508.6,157.47 L507.3,157.48 L506.0,157.50 L504.7,157.51 L503.4,157.52 L502.1,157.53 L500.8,157.54 L499.5,157.55 L498.2,157.57 L496.9,157.58 L495.6,157.59 L494.3,157.60 L493.0,157.62 L491.7,157.63 L490.4,157.65 L489.1,157.66 L487.8,157.68 L486.5,157.70 L485.2,157.72 L483.9,157.74 L482.6,157.76 L481.3,157.78 L480.0,157.80 L478.7,157.83 L477.4,157.85 L476.1,157.88 L474.8,157.91 L473.5,157.94 L472.2,157.97 L470.9,158.00 L469.6,158.03 L468.3,158.06 L467.0,158.10 L465.7,158.14 L464.4,158.18 L463.1,158.24 L461.8,158.31 L460.5,158.38 L459.2,158.46 L457.9,158.54 L456.6,158.63 L455.3,158.71 L454.0,158.80 L452.7,158.89 L451.4,158.98 L450.1,159.06 L448.8,159.14 L447.5,159.22 L446.2,159.29 L444.9,159.35 L443.6,159.40 L442.3,159.45 L441.0,159.48 L439.8,159.50 L438.5,159.52 L437.2,159.53 L435.9,159.54 L434.6,159.55 L433.3,159.55 L432.0,159.56 L430.7,159.58 L429.4,159.60 L428.1,159.65 L426.8,159.81 L425.5,160.06 L424.2,160.38 L422.9,160.76 L421.6,161.17 L420.3,161.60 L419.0,162.05 L417.7,162.48 L416.4,162.94 L415.1,163.44 L413.8,163.99 L412.5,164.59 L411.2,165.23 L409.9,165.91 L408.6,166.64 L407.3,167.41 L406.0,168.24 L404.7,169.18 L403.4,170.21 L402.1,171.33 L400.8,172.54 L399.5,173.81 L398.2,175.14 L396.9,176.67 L395.6,178.39 L394.3,180.19 L393.0,181.96 L391.7,183.60 L390.4,185.17 L389.1,186.78 L387.8,188.25 L386.5,189.37 L385.2,190.03 L383.9,190.57 L382.6,190.92 L381.3,191.00 L380.0,190.99 L378.7,190.96 L377.4,190.93 L376.1,190.88 L374.8,190.82 L373.5,190.76 L372.2,190.68 L370.9,190.61 L369.6,190.52 L368.3,190.43 L367.0,190.33 L365.7,190.19 L364.4,190.02 L363.1,189.81 L361.8,189.57 L360.5,189.31 L359.2,189.04 L357.9,188.76 L356.6,188.47 L355.3,188.19 L354.0,187.92 L352.7,187.62 L351.4,187.26 L350.1,186.86 L348.8,186.45 L347.5,186.04 L346.2,185.67 L344.9,185.34 L343.6,185.09 L342.3,184.94 L341.0,184.92 L339.7,185.35 L338.4,186.16 L337.1,187.10Z" fill="#98fb98" stroke="#2fb52f" stroke-width="0.72" stroke-linejoin="round"/>
<rect x="54.6" y="20.2" width="227.0" height="225.4" fill="none" stroke="#1a1a1a" stroke-width="0.8"/>
<line x1="51.6" y1="26.0" x2="54.6" y2="26.0" stroke="#1a1a1a" stroke-width="0.9"/>
<text x="48.6" y="30.7" font-size="14.2" text-anchor="end" fill="#444444">1.0</text>
<line x1="51.6" y1="79.6" x2="54.6" y2="79.6" stroke="#1a1a1a" stroke-width="0.9"/>
<text x="48.6" y="84.3" font-size="14.2" text-anchor="end" fill="#444444">0.5</text>
<line x1="51.6" y1="133.2" x2="54.6" y2="133.2" stroke="#1a1a1a" stroke-width="0.9"/>
<text x="48.6" y="137.9" font-size="14.2" text-anchor="end" fill="#444444">0.0</text>
<line x1="51.6" y1="186.9" x2="54.6" y2="186.9" stroke="#1a1a1a" stroke-width="0.9"/>
<text x="48.6" y="191.6" font-size="14.2" text-anchor="end" fill="#444444">−0.5</text>
<line x1="51.6" y1="240.5" x2="54.6" y2="240.5" stroke="#1a1a1a" stroke-width="0.9"/>
<text x="48.6" y="245.2" font-size="14.2" text-anchor="end" fill="#444444">−1.0</text>
<line x1="90.5" y1="245.6" x2="90.5" y2="248.6" stroke="#1a1a1a" stroke-width="0.9"/>
<text x="78.1" y="260.9" font-size="14.2" fill="#444444">10<tspan font-size="10" dy="-5.6">−1</tspan></text>
<line x1="142.2" y1="245.6" x2="142.2" y2="248.6" stroke="#1a1a1a" stroke-width="0.9"/>
<text x="132.4" y="260.9" font-size="14.2" fill="#444444">10<tspan font-size="10" dy="-5.6">1</tspan></text>
<line x1="193.8" y1="245.6" x2="193.8" y2="248.6" stroke="#1a1a1a" stroke-width="0.9"/>
<text x="184.1" y="260.9" font-size="14.2" fill="#444444">10<tspan font-size="10" dy="-5.6">3</tspan></text>
<line x1="245.5" y1="245.6" x2="245.5" y2="248.6" stroke="#1a1a1a" stroke-width="0.9"/>
<text x="235.8" y="260.9" font-size="14.2" fill="#444444">10<tspan font-size="10" dy="-5.6">5</tspan></text>
<text x="128.5" y="277.5" font-size="14.4" fill="#444444" >E<tspan font-size="10" dy="2.3">kin</tspan><tspan dy="-2.3"> in GeV/n</tspan></text>
<rect x="326.90000000000003" y="20.2" width="227.0" height="225.4" fill="none" stroke="#1a1a1a" stroke-width="0.8"/>
<line x1="323.9" y1="26.0" x2="326.9" y2="26.0" stroke="#1a1a1a" stroke-width="0.9"/>
<text x="320.9" y="30.7" font-size="14.2" text-anchor="end" fill="#444444">1.0</text>
<line x1="323.9" y1="79.6" x2="326.9" y2="79.6" stroke="#1a1a1a" stroke-width="0.9"/>
<text x="320.9" y="84.3" font-size="14.2" text-anchor="end" fill="#444444">0.5</text>
<line x1="323.9" y1="133.2" x2="326.9" y2="133.2" stroke="#1a1a1a" stroke-width="0.9"/>
<text x="320.9" y="137.9" font-size="14.2" text-anchor="end" fill="#444444">0.0</text>
<line x1="323.9" y1="186.9" x2="326.9" y2="186.9" stroke="#1a1a1a" stroke-width="0.9"/>
<text x="320.9" y="191.6" font-size="14.2" text-anchor="end" fill="#444444">−0.5</text>
<line x1="323.9" y1="240.5" x2="326.9" y2="240.5" stroke="#1a1a1a" stroke-width="0.9"/>
<text x="320.9" y="245.2" font-size="14.2" text-anchor="end" fill="#444444">−1.0</text>
<line x1="362.8" y1="245.6" x2="362.8" y2="248.6" stroke="#1a1a1a" stroke-width="0.9"/>
<text x="350.4" y="260.9" font-size="14.2" fill="#444444">10<tspan font-size="10" dy="-5.6">−1</tspan></text>
<line x1="414.5" y1="245.6" x2="414.5" y2="248.6" stroke="#1a1a1a" stroke-width="0.9"/>
<text x="404.7" y="260.9" font-size="14.2" fill="#444444">10<tspan font-size="10" dy="-5.6">1</tspan></text>
<line x1="466.1" y1="245.6" x2="466.1" y2="248.6" stroke="#1a1a1a" stroke-width="0.9"/>
<text x="456.4" y="260.9" font-size="14.2" fill="#444444">10<tspan font-size="10" dy="-5.6">3</tspan></text>
<line x1="517.8" y1="245.6" x2="517.8" y2="248.6" stroke="#1a1a1a" stroke-width="0.9"/>
<text x="508.1" y="260.9" font-size="14.2" fill="#444444">10<tspan font-size="10" dy="-5.6">5</tspan></text>
<text x="400.8" y="277.5" font-size="14.4" fill="#444444" >E<tspan font-size="10" dy="2.3">kin</tspan><tspan dy="-2.3"> in GeV/n</tspan></text>
<text x="54.7" y="16.5" font-size="14.4" fill="#444444" textLength="64.9" lengthAdjust="spacingAndGlyphs"><tspan font-style="italic">r</tspan> = 0.5 kpc</text>
<text x="326.9" y="16.5" font-size="14.4" fill="#444444" textLength="65.3" lengthAdjust="spacingAndGlyphs"><tspan font-style="italic">r</tspan> = 3.5 kpc</text>
<text transform="translate(16.9,132.5) rotate(-90)" font-size="14.4" fill="#444444" text-anchor="middle" textLength="172.8" lengthAdjust="spacingAndGlyphs">Pearson Correlation Coefficient</text>
<rect x="194.5" y="98.4" width="80.6" height="69" rx="2.2" fill="#fff" fill-opacity="0.8" stroke="#cfcfcf" stroke-width="0.9"/>
<rect x="199.3" y="103.4" width="23.6" height="8.1" fill="#ef7070" stroke="#ee1420" stroke-width="0.9"/>
<text x="231.7" y="111.6" font-size="11.6" fill="#444444" textLength="30.8" lengthAdjust="spacingAndGlyphs">Sec. <tspan font-style="italic">e</tspan></text>
<rect x="199.3" y="119.8" width="23.6" height="8.1" fill="#f4a460" stroke="#ffa01a" stroke-width="0.9"/>
<text x="231.7" y="128.0" font-size="11.6" fill="#444444" textLength="30.8" lengthAdjust="spacingAndGlyphs">Sec. <tspan font-style="italic">p</tspan></text>
<rect x="199.3" y="136.2" width="23.6" height="8.1" fill="#98fb98" stroke="#2fb52f" stroke-width="0.9"/>
<text x="231.7" y="144.4" font-size="11.6" fill="#444444" textLength="39.1" lengthAdjust="spacingAndGlyphs">Prim. <tspan font-style="italic">e</tspan></text>
<rect x="199.3" y="152.6" width="23.6" height="8.1" fill="#add8e6" stroke="#3a3aff" stroke-width="0.9"/>
<text x="231.7" y="160.8" font-size="11.6" fill="#444444" textLength="39.1" lengthAdjust="spacingAndGlyphs">Prim. <tspan font-style="italic">p</tspan></text>
<rect x="466.9" y="170.8" width="80.6" height="69" rx="2.2" fill="#fff" fill-opacity="0.8" stroke="#cfcfcf" stroke-width="0.9"/>
<rect x="471.7" y="175.8" width="23.6" height="8.1" fill="#ef7070" stroke="#ee1420" stroke-width="0.9"/>
<text x="504.1" y="184.0" font-size="11.6" fill="#444444" textLength="30.8" lengthAdjust="spacingAndGlyphs">Sec. <tspan font-style="italic">e</tspan></text>
<rect x="471.7" y="192.2" width="23.6" height="8.1" fill="#f4a460" stroke="#ffa01a" stroke-width="0.9"/>
<text x="504.1" y="200.4" font-size="11.6" fill="#444444" textLength="30.8" lengthAdjust="spacingAndGlyphs">Sec. <tspan font-style="italic">p</tspan></text>
<rect x="471.7" y="208.6" width="23.6" height="8.1" fill="#98fb98" stroke="#2fb52f" stroke-width="0.9"/>
<text x="504.1" y="216.8" font-size="11.6" fill="#444444" textLength="39.1" lengthAdjust="spacingAndGlyphs">Prim. <tspan font-style="italic">e</tspan></text>
<rect x="471.7" y="225.0" width="23.6" height="8.1" fill="#add8e6" stroke="#3a3aff" stroke-width="0.9"/>
<text x="504.1" y="233.2" font-size="11.6" fill="#444444" textLength="39.1" lengthAdjust="spacingAndGlyphs">Prim. <tspan font-style="italic">p</tspan></text>
<rect x="599.7" y="20.2" width="225.8" height="225.5" fill="#000"/>
<g shape-rendering="crispEdges">
<path fill="#b73779" d="M690.02,20.2h5.07v5.06h-5.07zM695.04,20.2h5.07v5.06h-5.07zM685.0,25.21h5.07v5.06h-5.07zM690.02,25.21h5.07v5.06h-5.07zM695.04,25.21h5.07v5.06h-5.07zM669.95,30.22h5.07v5.06h-5.07zM685.0,30.22h5.07v5.06h-5.07zM685.0,35.23h5.07v5.06h-5.07zM760.27,35.23h5.07v5.06h-5.07zM750.23,40.24h5.07v5.06h-5.07zM760.27,40.24h5.07v5.06h-5.07zM745.22,45.26h5.07v5.06h-5.07zM750.23,45.26h5.07v5.06h-5.07zM760.27,45.26h5.07v5.06h-5.07zM639.84,50.27h5.07v5.06h-5.07zM649.88,50.27h5.07v5.06h-5.07zM740.2,50.27h5.07v5.06h-5.07zM745.22,50.27h5.07v5.06h-5.07zM644.86,55.28h5.07v5.06h-5.07zM654.9,55.28h5.07v5.06h-5.07zM740.2,55.28h5.07v5.06h-5.07zM745.22,60.29h5.07v5.06h-5.07zM634.82,65.3h5.07v5.06h-5.07zM639.84,65.3h5.07v5.06h-5.07zM664.93,65.3h5.07v5.06h-5.07zM745.22,65.3h5.07v5.06h-5.07zM634.82,70.31h5.07v5.06h-5.07zM639.84,70.31h5.07v5.06h-5.07zM659.91,70.31h5.07v5.06h-5.07zM669.95,70.31h5.07v5.06h-5.07zM740.2,70.31h5.07v5.06h-5.07zM644.86,75.32h5.07v5.06h-5.07zM740.2,75.32h5.07v5.06h-5.07zM634.82,80.33h5.07v5.06h-5.07zM639.84,80.33h5.07v5.06h-5.07zM669.95,80.33h5.07v5.06h-5.07zM745.22,80.33h5.07v5.06h-5.07zM750.23,80.33h5.07v5.06h-5.07zM750.23,85.34h5.07v5.06h-5.07zM604.72,95.37h5.07v5.06h-5.07zM624.79,95.37h5.07v5.06h-5.07zM629.81,95.37h5.07v5.06h-5.07zM649.88,95.37h5.07v5.06h-5.07zM659.91,95.37h5.07v5.06h-5.07zM629.81,100.38h5.07v5.06h-5.07zM760.27,100.38h5.07v5.06h-5.07zM765.29,100.38h5.07v5.06h-5.07zM604.72,105.39h5.07v5.06h-5.07zM639.84,105.39h5.07v5.06h-5.07zM649.88,105.39h5.07v5.06h-5.07zM634.82,110.4h5.07v5.06h-5.07zM649.88,110.4h5.07v5.06h-5.07zM730.16,115.41h5.07v5.06h-5.07zM770.3,115.41h5.07v5.06h-5.07zM644.86,120.42h5.07v5.06h-5.07zM700.06,120.42h5.07v5.06h-5.07zM725.14,120.42h5.07v5.06h-5.07zM639.84,125.43h5.07v5.06h-5.07zM599.7,130.44h5.07v5.06h-5.07zM629.81,130.44h5.07v5.06h-5.07zM679.98,130.44h5.07v5.06h-5.07zM725.14,135.46h5.07v5.06h-5.07zM760.27,135.46h5.07v5.06h-5.07zM599.7,140.47h5.07v5.06h-5.07zM765.29,140.47h5.07v5.06h-5.07zM770.3,140.47h5.07v5.06h-5.07zM695.04,145.48h5.07v5.06h-5.07zM715.11,145.48h5.07v5.06h-5.07zM725.14,145.48h5.07v5.06h-5.07zM735.18,145.48h5.07v5.06h-5.07zM775.32,145.48h5.07v5.06h-5.07zM674.97,150.49h5.07v5.06h-5.07zM740.2,150.49h5.07v5.06h-5.07zM750.23,150.49h5.07v5.06h-5.07zM775.32,150.49h5.07v5.06h-5.07zM785.36,155.5h5.07v5.06h-5.07zM800.41,155.5h5.07v5.06h-5.07zM679.98,175.54h5.07v5.06h-5.07zM669.95,180.56h5.07v5.06h-5.07zM644.86,185.57h5.07v5.06h-5.07zM679.98,185.57h5.07v5.06h-5.07zM634.82,190.58h5.07v5.06h-5.07zM639.84,190.58h5.07v5.06h-5.07zM685.0,200.6h5.07v5.06h-5.07zM745.22,205.61h5.07v5.06h-5.07zM700.06,215.63h5.07v5.06h-5.07zM745.22,220.64h5.07v5.06h-5.07zM760.27,220.64h5.07v5.06h-5.07zM765.29,220.64h5.07v5.06h-5.07zM705.07,225.66h5.07v5.06h-5.07zM750.23,225.66h5.07v5.06h-5.07zM755.25,225.66h5.07v5.06h-5.07zM760.27,225.66h5.07v5.06h-5.07zM700.06,230.67h5.07v5.06h-5.07zM705.07,230.67h5.07v5.06h-5.07zM705.07,235.68h5.07v5.06h-5.07zM705.07,240.69h5.07v5.06h-5.07z"/>
<path fill="#de4968" d="M700.06,20.2h5.07v5.06h-5.07zM700.06,25.21h5.07v5.06h-5.07zM659.91,35.23h5.07v5.06h-5.07zM740.2,35.23h5.07v5.06h-5.07zM745.22,35.23h5.07v5.06h-5.07zM654.9,40.24h5.07v5.06h-5.07zM755.25,40.24h5.07v5.06h-5.07zM644.86,50.27h5.07v5.06h-5.07zM760.27,50.27h5.07v5.06h-5.07zM765.29,50.27h5.07v5.06h-5.07zM735.18,55.28h5.07v5.06h-5.07zM745.22,55.28h5.07v5.06h-5.07zM750.23,55.28h5.07v5.06h-5.07zM654.9,60.29h5.07v5.06h-5.07zM659.91,60.29h5.07v5.06h-5.07zM735.18,60.29h5.07v5.06h-5.07zM740.2,60.29h5.07v5.06h-5.07zM654.9,65.3h5.07v5.06h-5.07zM745.22,70.31h5.07v5.06h-5.07zM745.22,75.32h5.07v5.06h-5.07zM654.9,90.36h5.07v5.06h-5.07zM604.72,100.38h5.07v5.06h-5.07zM644.86,105.39h5.07v5.06h-5.07zM649.88,115.41h5.07v5.06h-5.07zM770.3,120.42h5.07v5.06h-5.07zM664.93,125.43h5.07v5.06h-5.07zM685.0,125.43h5.07v5.06h-5.07zM715.11,125.43h5.07v5.06h-5.07zM770.3,125.43h5.07v5.06h-5.07zM730.16,130.44h5.07v5.06h-5.07zM664.93,140.47h5.07v5.06h-5.07zM685.0,140.47h5.07v5.06h-5.07zM690.02,140.47h5.07v5.06h-5.07zM740.2,140.47h5.07v5.06h-5.07zM649.88,145.48h5.07v5.06h-5.07zM664.93,150.49h5.07v5.06h-5.07zM659.91,155.5h5.07v5.06h-5.07zM700.06,155.5h5.07v5.06h-5.07zM735.18,160.51h5.07v5.06h-5.07zM785.36,160.51h5.07v5.06h-5.07zM805.43,165.52h5.07v5.06h-5.07zM805.43,170.53h5.07v5.06h-5.07zM644.86,190.58h5.07v5.06h-5.07zM745.22,210.62h5.07v5.06h-5.07zM755.25,220.64h5.07v5.06h-5.07zM700.06,235.68h5.07v5.06h-5.07zM710.09,240.69h5.07v5.06h-5.07z"/>
<path fill="#7c2382" d="M705.07,20.2h5.07v5.06h-5.07zM705.07,25.21h5.07v5.06h-5.07z"/>
<path fill="#54137d" d="M710.09,20.2h5.07v5.06h-5.07zM715.11,20.2h5.07v5.06h-5.07zM720.13,20.2h5.07v5.06h-5.07zM710.09,25.21h5.07v5.06h-5.07zM720.13,25.21h5.07v5.06h-5.07zM705.07,30.22h5.07v5.06h-5.07zM720.13,30.22h5.07v5.06h-5.07zM725.14,30.22h5.07v5.06h-5.07zM730.16,30.22h5.07v5.06h-5.07z"/>
<path fill="#29115a" d="M725.14,20.2h5.07v5.06h-5.07zM730.16,20.2h5.07v5.06h-5.07zM725.14,25.21h5.07v5.06h-5.07zM730.16,25.21h5.07v5.06h-5.07zM735.18,25.21h5.07v5.06h-5.07zM710.09,30.22h5.07v5.06h-5.07zM715.11,30.22h5.07v5.06h-5.07z"/>
<path fill="#782281" d="M674.97,25.21h5.07v5.06h-5.07zM674.97,30.22h5.07v5.06h-5.07zM745.22,30.22h5.07v5.06h-5.07zM664.93,40.24h5.07v5.06h-5.07zM740.2,40.24h5.07v5.06h-5.07zM780.34,45.26h5.07v5.06h-5.07zM634.82,50.27h5.07v5.06h-5.07zM780.34,50.27h5.07v5.06h-5.07zM629.81,55.28h5.07v5.06h-5.07zM664.93,55.28h5.07v5.06h-5.07zM760.27,55.28h5.07v5.06h-5.07zM765.29,55.28h5.07v5.06h-5.07zM775.32,55.28h5.07v5.06h-5.07zM664.93,60.29h5.07v5.06h-5.07zM730.16,60.29h5.07v5.06h-5.07zM795.39,60.29h5.07v5.06h-5.07zM669.95,65.3h5.07v5.06h-5.07zM679.98,65.3h5.07v5.06h-5.07zM755.25,65.3h5.07v5.06h-5.07zM679.98,70.31h5.07v5.06h-5.07zM730.16,70.31h5.07v5.06h-5.07zM755.25,70.31h5.07v5.06h-5.07zM735.18,80.33h5.07v5.06h-5.07zM755.25,80.33h5.07v5.06h-5.07zM659.91,85.34h5.07v5.06h-5.07zM679.98,85.34h5.07v5.06h-5.07zM624.79,90.36h5.07v5.06h-5.07zM639.84,90.36h5.07v5.06h-5.07zM745.22,90.36h5.07v5.06h-5.07zM664.93,95.37h5.07v5.06h-5.07zM755.25,95.37h5.07v5.06h-5.07zM614.75,100.38h5.07v5.06h-5.07zM664.93,100.38h5.07v5.06h-5.07zM755.25,100.38h5.07v5.06h-5.07zM614.75,105.39h5.07v5.06h-5.07zM619.77,105.39h5.07v5.06h-5.07zM669.95,105.39h5.07v5.06h-5.07zM770.3,105.39h5.07v5.06h-5.07zM614.75,110.4h5.07v5.06h-5.07zM624.79,110.4h5.07v5.06h-5.07zM730.16,110.4h5.07v5.06h-5.07zM760.27,110.4h5.07v5.06h-5.07zM609.74,115.41h5.07v5.06h-5.07zM619.77,115.41h5.07v5.06h-5.07zM679.98,115.41h5.07v5.06h-5.07zM695.04,115.41h5.07v5.06h-5.07zM715.11,115.41h5.07v5.06h-5.07zM735.18,115.41h5.07v5.06h-5.07zM740.2,115.41h5.07v5.06h-5.07zM599.7,120.42h5.07v5.06h-5.07zM619.77,120.42h5.07v5.06h-5.07zM629.81,120.42h5.07v5.06h-5.07zM634.82,120.42h5.07v5.06h-5.07zM679.98,120.42h5.07v5.06h-5.07zM695.04,120.42h5.07v5.06h-5.07zM715.11,120.42h5.07v5.06h-5.07zM735.18,120.42h5.07v5.06h-5.07zM740.2,120.42h5.07v5.06h-5.07zM760.27,120.42h5.07v5.06h-5.07zM629.81,125.43h5.07v5.06h-5.07zM690.02,125.43h5.07v5.06h-5.07zM760.27,125.43h5.07v5.06h-5.07zM609.74,130.44h5.07v5.06h-5.07zM634.82,130.44h5.07v5.06h-5.07zM695.04,130.44h5.07v5.06h-5.07zM745.22,130.44h5.07v5.06h-5.07zM624.79,135.46h5.07v5.06h-5.07zM614.75,140.47h5.07v5.06h-5.07zM619.77,140.47h5.07v5.06h-5.07zM629.81,140.47h5.07v5.06h-5.07zM705.07,140.47h5.07v5.06h-5.07zM705.07,145.48h5.07v5.06h-5.07zM750.23,145.48h5.07v5.06h-5.07zM755.25,145.48h5.07v5.06h-5.07zM760.27,145.48h5.07v5.06h-5.07zM679.98,150.49h5.07v5.06h-5.07zM685.0,150.49h5.07v5.06h-5.07zM715.11,150.49h5.07v5.06h-5.07zM795.39,150.49h5.07v5.06h-5.07zM800.41,150.49h5.07v5.06h-5.07zM705.07,155.5h5.07v5.06h-5.07zM730.16,155.5h5.07v5.06h-5.07zM755.25,155.5h5.07v5.06h-5.07zM674.97,160.51h5.07v5.06h-5.07zM679.98,160.51h5.07v5.06h-5.07zM685.0,160.51h5.07v5.06h-5.07zM720.13,160.51h5.07v5.06h-5.07zM725.14,160.51h5.07v5.06h-5.07zM750.23,160.51h5.07v5.06h-5.07zM770.3,160.51h5.07v5.06h-5.07zM649.88,165.52h5.07v5.06h-5.07zM755.25,165.52h5.07v5.06h-5.07zM770.3,165.52h5.07v5.06h-5.07zM760.27,170.53h5.07v5.06h-5.07zM775.32,170.53h5.07v5.06h-5.07zM785.36,170.53h5.07v5.06h-5.07zM685.0,175.54h5.07v5.06h-5.07zM700.06,175.54h5.07v5.06h-5.07zM740.2,175.54h5.07v5.06h-5.07zM750.23,175.54h5.07v5.06h-5.07zM760.27,175.54h5.07v5.06h-5.07zM679.98,180.56h5.07v5.06h-5.07zM690.02,180.56h5.07v5.06h-5.07zM740.2,180.56h5.07v5.06h-5.07zM770.3,180.56h5.07v5.06h-5.07zM785.36,180.56h5.07v5.06h-5.07zM800.41,180.56h5.07v5.06h-5.07zM639.84,185.57h5.07v5.06h-5.07zM664.93,185.57h5.07v5.06h-5.07zM669.95,185.57h5.07v5.06h-5.07zM770.3,185.57h5.07v5.06h-5.07zM805.43,185.57h5.07v5.06h-5.07zM624.79,190.58h5.07v5.06h-5.07zM674.97,190.58h5.07v5.06h-5.07zM690.02,190.58h5.07v5.06h-5.07zM760.27,190.58h5.07v5.06h-5.07zM790.38,190.58h5.07v5.06h-5.07zM679.98,195.59h5.07v5.06h-5.07zM685.0,195.59h5.07v5.06h-5.07zM690.02,195.59h5.07v5.06h-5.07zM735.18,195.59h5.07v5.06h-5.07zM740.2,195.59h5.07v5.06h-5.07zM745.22,195.59h5.07v5.06h-5.07zM695.04,200.6h5.07v5.06h-5.07zM750.23,200.6h5.07v5.06h-5.07zM679.98,205.61h5.07v5.06h-5.07zM685.0,205.61h5.07v5.06h-5.07zM715.11,205.61h5.07v5.06h-5.07zM735.18,205.61h5.07v5.06h-5.07zM755.25,205.61h5.07v5.06h-5.07zM690.02,210.62h5.07v5.06h-5.07zM755.25,210.62h5.07v5.06h-5.07zM679.98,220.64h5.07v5.06h-5.07zM685.0,220.64h5.07v5.06h-5.07zM710.09,220.64h5.07v5.06h-5.07zM674.97,225.66h5.07v5.06h-5.07zM679.98,225.66h5.07v5.06h-5.07zM695.04,225.66h5.07v5.06h-5.07zM669.95,230.67h5.07v5.06h-5.07zM695.04,230.67h5.07v5.06h-5.07zM755.25,230.67h5.07v5.06h-5.07zM674.97,235.68h5.07v5.06h-5.07zM715.11,235.68h5.07v5.06h-5.07zM720.13,240.69h5.07v5.06h-5.07z"/>
<path fill="#8c2981" d="M679.98,25.21h5.07v5.06h-5.07zM659.91,30.22h5.07v5.06h-5.07zM664.93,30.22h5.07v5.06h-5.07zM679.98,30.22h5.07v5.06h-5.07zM695.04,30.22h5.07v5.06h-5.07zM700.06,30.22h5.07v5.06h-5.07zM750.23,30.22h5.07v5.06h-5.07zM755.25,30.22h5.07v5.06h-5.07zM664.93,35.23h5.07v5.06h-5.07zM669.95,35.23h5.07v5.06h-5.07zM674.97,35.23h5.07v5.06h-5.07zM750.23,35.23h5.07v5.06h-5.07zM755.25,35.23h5.07v5.06h-5.07zM765.29,35.23h5.07v5.06h-5.07zM644.86,40.24h5.07v5.06h-5.07zM649.88,40.24h5.07v5.06h-5.07zM679.98,40.24h5.07v5.06h-5.07zM685.0,40.24h5.07v5.06h-5.07zM730.16,40.24h5.07v5.06h-5.07zM735.18,40.24h5.07v5.06h-5.07zM745.22,40.24h5.07v5.06h-5.07zM765.29,40.24h5.07v5.06h-5.07zM770.3,40.24h5.07v5.06h-5.07zM775.32,40.24h5.07v5.06h-5.07zM639.84,45.26h5.07v5.06h-5.07zM644.86,45.26h5.07v5.06h-5.07zM654.9,45.26h5.07v5.06h-5.07zM740.2,45.26h5.07v5.06h-5.07zM755.25,45.26h5.07v5.06h-5.07zM770.3,45.26h5.07v5.06h-5.07zM755.25,50.27h5.07v5.06h-5.07zM770.3,50.27h5.07v5.06h-5.07zM770.3,55.28h5.07v5.06h-5.07zM634.82,60.29h5.07v5.06h-5.07zM750.23,60.29h5.07v5.06h-5.07zM755.25,60.29h5.07v5.06h-5.07zM629.81,65.3h5.07v5.06h-5.07zM674.97,65.3h5.07v5.06h-5.07zM725.14,65.3h5.07v5.06h-5.07zM750.23,65.3h5.07v5.06h-5.07zM629.81,70.31h5.07v5.06h-5.07zM649.88,70.31h5.07v5.06h-5.07zM674.97,70.31h5.07v5.06h-5.07zM629.81,75.32h5.07v5.06h-5.07zM674.97,75.32h5.07v5.06h-5.07zM735.18,75.32h5.07v5.06h-5.07zM629.81,80.33h5.07v5.06h-5.07zM649.88,80.33h5.07v5.06h-5.07zM740.2,80.33h5.07v5.06h-5.07zM634.82,85.34h5.07v5.06h-5.07zM639.84,85.34h5.07v5.06h-5.07zM674.97,85.34h5.07v5.06h-5.07zM745.22,85.34h5.07v5.06h-5.07zM629.81,90.36h5.07v5.06h-5.07zM634.82,90.36h5.07v5.06h-5.07zM644.86,90.36h5.07v5.06h-5.07zM674.97,90.36h5.07v5.06h-5.07zM755.25,90.36h5.07v5.06h-5.07zM634.82,95.37h5.07v5.06h-5.07zM639.84,95.37h5.07v5.06h-5.07zM750.23,95.37h5.07v5.06h-5.07zM624.79,100.38h5.07v5.06h-5.07zM634.82,100.38h5.07v5.06h-5.07zM639.84,100.38h5.07v5.06h-5.07zM654.9,100.38h5.07v5.06h-5.07zM659.91,100.38h5.07v5.06h-5.07zM609.74,105.39h5.07v5.06h-5.07zM624.79,105.39h5.07v5.06h-5.07zM815.46,105.39h5.07v5.06h-5.07zM599.7,110.4h5.07v5.06h-5.07zM604.72,110.4h5.07v5.06h-5.07zM609.74,110.4h5.07v5.06h-5.07zM619.77,110.4h5.07v5.06h-5.07zM735.18,110.4h5.07v5.06h-5.07zM599.7,115.41h5.07v5.06h-5.07zM604.72,115.41h5.07v5.06h-5.07zM624.79,115.41h5.07v5.06h-5.07zM634.82,115.41h5.07v5.06h-5.07zM654.9,115.41h5.07v5.06h-5.07zM705.07,115.41h5.07v5.06h-5.07zM720.13,115.41h5.07v5.06h-5.07zM604.72,120.42h5.07v5.06h-5.07zM624.79,120.42h5.07v5.06h-5.07zM659.91,120.42h5.07v5.06h-5.07zM604.72,125.43h5.07v5.06h-5.07zM624.79,125.43h5.07v5.06h-5.07zM634.82,125.43h5.07v5.06h-5.07zM679.98,125.43h5.07v5.06h-5.07zM705.07,125.43h5.07v5.06h-5.07zM725.14,125.43h5.07v5.06h-5.07zM604.72,130.44h5.07v5.06h-5.07zM624.79,130.44h5.07v5.06h-5.07zM690.02,130.44h5.07v5.06h-5.07zM725.14,130.44h5.07v5.06h-5.07zM755.25,130.44h5.07v5.06h-5.07zM604.72,135.46h5.07v5.06h-5.07zM629.81,135.46h5.07v5.06h-5.07zM639.84,135.46h5.07v5.06h-5.07zM690.02,135.46h5.07v5.06h-5.07zM695.04,135.46h5.07v5.06h-5.07zM735.18,135.46h5.07v5.06h-5.07zM745.22,135.46h5.07v5.06h-5.07zM604.72,140.47h5.07v5.06h-5.07zM644.86,140.47h5.07v5.06h-5.07zM695.04,140.47h5.07v5.06h-5.07zM700.06,140.47h5.07v5.06h-5.07zM720.13,140.47h5.07v5.06h-5.07zM780.34,140.47h5.07v5.06h-5.07zM700.06,145.48h5.07v5.06h-5.07zM710.09,145.48h5.07v5.06h-5.07zM730.16,145.48h5.07v5.06h-5.07zM740.2,145.48h5.07v5.06h-5.07zM785.36,145.48h5.07v5.06h-5.07zM690.02,150.49h5.07v5.06h-5.07zM695.04,150.49h5.07v5.06h-5.07zM705.07,150.49h5.07v5.06h-5.07zM770.3,150.49h5.07v5.06h-5.07zM790.38,150.49h5.07v5.06h-5.07zM649.88,155.5h5.07v5.06h-5.07zM669.95,155.5h5.07v5.06h-5.07zM685.0,155.5h5.07v5.06h-5.07zM690.02,155.5h5.07v5.06h-5.07zM725.14,155.5h5.07v5.06h-5.07zM735.18,155.5h5.07v5.06h-5.07zM740.2,155.5h5.07v5.06h-5.07zM760.27,155.5h5.07v5.06h-5.07zM770.3,155.5h5.07v5.06h-5.07zM790.38,155.5h5.07v5.06h-5.07zM669.95,160.51h5.07v5.06h-5.07zM695.04,160.51h5.07v5.06h-5.07zM730.16,160.51h5.07v5.06h-5.07zM745.22,160.51h5.07v5.06h-5.07zM755.25,160.51h5.07v5.06h-5.07zM765.29,160.51h5.07v5.06h-5.07zM775.32,160.51h5.07v5.06h-5.07zM810.45,160.51h5.07v5.06h-5.07zM669.95,165.52h5.07v5.06h-5.07zM674.97,165.52h5.07v5.06h-5.07zM695.04,165.52h5.07v5.06h-5.07zM760.27,165.52h5.07v5.06h-5.07zM775.32,165.52h5.07v5.06h-5.07zM780.34,165.52h5.07v5.06h-5.07zM785.36,165.52h5.07v5.06h-5.07zM790.38,165.52h5.07v5.06h-5.07zM815.46,165.52h5.07v5.06h-5.07zM664.93,170.53h5.07v5.06h-5.07zM669.95,170.53h5.07v5.06h-5.07zM685.0,170.53h5.07v5.06h-5.07zM695.04,170.53h5.07v5.06h-5.07zM700.06,170.53h5.07v5.06h-5.07zM705.07,170.53h5.07v5.06h-5.07zM750.23,170.53h5.07v5.06h-5.07zM755.25,170.53h5.07v5.06h-5.07zM790.38,170.53h5.07v5.06h-5.07zM795.39,170.53h5.07v5.06h-5.07zM669.95,175.54h5.07v5.06h-5.07zM695.04,175.54h5.07v5.06h-5.07zM795.39,175.54h5.07v5.06h-5.07zM810.45,175.54h5.07v5.06h-5.07zM674.97,180.56h5.07v5.06h-5.07zM685.0,180.56h5.07v5.06h-5.07zM810.45,180.56h5.07v5.06h-5.07zM634.82,185.57h5.07v5.06h-5.07zM674.97,185.57h5.07v5.06h-5.07zM690.02,185.57h5.07v5.06h-5.07zM750.23,185.57h5.07v5.06h-5.07zM760.27,185.57h5.07v5.06h-5.07zM629.81,190.58h5.07v5.06h-5.07zM685.0,190.58h5.07v5.06h-5.07zM770.3,190.58h5.07v5.06h-5.07zM800.41,195.59h5.07v5.06h-5.07zM679.98,200.6h5.07v5.06h-5.07zM690.02,200.6h5.07v5.06h-5.07zM735.18,200.6h5.07v5.06h-5.07zM740.2,200.6h5.07v5.06h-5.07zM745.22,200.6h5.07v5.06h-5.07zM690.02,205.61h5.07v5.06h-5.07zM695.04,205.61h5.07v5.06h-5.07zM700.06,205.61h5.07v5.06h-5.07zM705.07,205.61h5.07v5.06h-5.07zM750.23,205.61h5.07v5.06h-5.07zM695.04,210.62h5.07v5.06h-5.07zM740.2,210.62h5.07v5.06h-5.07zM695.04,215.63h5.07v5.06h-5.07zM760.27,215.63h5.07v5.06h-5.07zM765.29,215.63h5.07v5.06h-5.07zM695.04,220.64h5.07v5.06h-5.07zM705.07,220.64h5.07v5.06h-5.07zM775.32,220.64h5.07v5.06h-5.07zM700.06,225.66h5.07v5.06h-5.07zM710.09,225.66h5.07v5.06h-5.07zM745.22,225.66h5.07v5.06h-5.07zM750.23,230.67h5.07v5.06h-5.07zM695.04,235.68h5.07v5.06h-5.07z"/>
<path fill="#3f0f72" d="M715.11,25.21h5.07v5.06h-5.07z"/>
<path fill="#51127c" d="M740.2,25.21h5.07v5.06h-5.07zM730.16,35.23h5.07v5.06h-5.07zM705.07,40.24h5.07v5.06h-5.07zM715.11,40.24h5.07v5.06h-5.07zM674.97,45.26h5.07v5.06h-5.07zM775.32,45.26h5.07v5.06h-5.07zM785.36,55.28h5.07v5.06h-5.07zM790.38,55.28h5.07v5.06h-5.07zM725.14,60.29h5.07v5.06h-5.07zM619.77,75.32h5.07v5.06h-5.07zM720.13,75.32h5.07v5.06h-5.07zM725.14,75.32h5.07v5.06h-5.07zM609.74,80.33h5.07v5.06h-5.07zM619.77,80.33h5.07v5.06h-5.07zM654.9,80.33h5.07v5.06h-5.07zM730.16,80.33h5.07v5.06h-5.07zM614.75,85.34h5.07v5.06h-5.07zM624.79,85.34h5.07v5.06h-5.07zM805.43,85.34h5.07v5.06h-5.07zM805.43,90.36h5.07v5.06h-5.07zM614.75,95.37h5.07v5.06h-5.07zM674.97,100.38h5.07v5.06h-5.07zM750.23,100.38h5.07v5.06h-5.07zM770.3,100.38h5.07v5.06h-5.07zM679.98,105.39h5.07v5.06h-5.07zM750.23,105.39h5.07v5.06h-5.07zM664.93,110.4h5.07v5.06h-5.07zM685.0,110.4h5.07v5.06h-5.07zM690.02,110.4h5.07v5.06h-5.07zM745.22,110.4h5.07v5.06h-5.07zM815.46,110.4h5.07v5.06h-5.07zM815.46,115.41h5.07v5.06h-5.07zM674.97,120.42h5.07v5.06h-5.07zM750.23,120.42h5.07v5.06h-5.07zM815.46,120.42h5.07v5.06h-5.07zM735.18,125.43h5.07v5.06h-5.07zM740.2,125.43h5.07v5.06h-5.07zM815.46,125.43h5.07v5.06h-5.07zM619.77,130.44h5.07v5.06h-5.07zM609.74,140.47h5.07v5.06h-5.07zM795.39,140.47h5.07v5.06h-5.07zM815.46,140.47h5.07v5.06h-5.07zM735.18,150.49h5.07v5.06h-5.07zM710.09,160.51h5.07v5.06h-5.07zM720.13,165.52h5.07v5.06h-5.07zM649.88,170.53h5.07v5.06h-5.07zM730.16,170.53h5.07v5.06h-5.07zM654.9,175.54h5.07v5.06h-5.07zM664.93,175.54h5.07v5.06h-5.07zM715.11,175.54h5.07v5.06h-5.07zM785.36,175.54h5.07v5.06h-5.07zM695.04,180.56h5.07v5.06h-5.07zM700.06,180.56h5.07v5.06h-5.07zM715.11,180.56h5.07v5.06h-5.07zM720.13,180.56h5.07v5.06h-5.07zM745.22,180.56h5.07v5.06h-5.07zM775.32,180.56h5.07v5.06h-5.07zM780.34,180.56h5.07v5.06h-5.07zM619.77,185.57h5.07v5.06h-5.07zM695.04,185.57h5.07v5.06h-5.07zM710.09,185.57h5.07v5.06h-5.07zM730.16,185.57h5.07v5.06h-5.07zM740.2,185.57h5.07v5.06h-5.07zM785.36,185.57h5.07v5.06h-5.07zM720.13,190.58h5.07v5.06h-5.07zM725.14,190.58h5.07v5.06h-5.07zM730.16,190.58h5.07v5.06h-5.07zM765.29,190.58h5.07v5.06h-5.07zM775.32,190.58h5.07v5.06h-5.07zM785.36,190.58h5.07v5.06h-5.07zM795.39,190.58h5.07v5.06h-5.07zM624.79,195.59h5.07v5.06h-5.07zM629.81,195.59h5.07v5.06h-5.07zM649.88,195.59h5.07v5.06h-5.07zM720.13,195.59h5.07v5.06h-5.07zM755.25,195.59h5.07v5.06h-5.07zM629.81,200.6h5.07v5.06h-5.07zM639.84,200.6h5.07v5.06h-5.07zM644.86,200.6h5.07v5.06h-5.07zM720.13,200.6h5.07v5.06h-5.07zM725.14,200.6h5.07v5.06h-5.07zM760.27,200.6h5.07v5.06h-5.07zM795.39,200.6h5.07v5.06h-5.07zM634.82,205.61h5.07v5.06h-5.07zM644.86,205.61h5.07v5.06h-5.07zM649.88,205.61h5.07v5.06h-5.07zM669.95,205.61h5.07v5.06h-5.07zM760.27,205.61h5.07v5.06h-5.07zM785.36,205.61h5.07v5.06h-5.07zM790.38,205.61h5.07v5.06h-5.07zM634.82,210.62h5.07v5.06h-5.07zM654.9,210.62h5.07v5.06h-5.07zM664.93,210.62h5.07v5.06h-5.07zM669.95,210.62h5.07v5.06h-5.07zM715.11,210.62h5.07v5.06h-5.07zM760.27,210.62h5.07v5.06h-5.07zM770.3,210.62h5.07v5.06h-5.07zM775.32,210.62h5.07v5.06h-5.07zM659.91,215.63h5.07v5.06h-5.07zM674.97,215.63h5.07v5.06h-5.07zM679.98,215.63h5.07v5.06h-5.07zM715.11,215.63h5.07v5.06h-5.07zM659.91,220.64h5.07v5.06h-5.07zM715.11,220.64h5.07v5.06h-5.07zM659.91,225.66h5.07v5.06h-5.07zM664.93,225.66h5.07v5.06h-5.07zM720.13,225.66h5.07v5.06h-5.07zM690.02,230.67h5.07v5.06h-5.07zM740.2,230.67h5.07v5.06h-5.07zM685.0,235.68h5.07v5.06h-5.07zM740.2,235.68h5.07v5.06h-5.07z"/>
<path fill="#641a80" d="M745.22,25.21h5.07v5.06h-5.07zM740.2,30.22h5.07v5.06h-5.07zM725.14,35.23h5.07v5.06h-5.07zM735.18,35.23h5.07v5.06h-5.07zM669.95,40.24h5.07v5.06h-5.07zM674.97,40.24h5.07v5.06h-5.07zM669.95,45.26h5.07v5.06h-5.07zM669.95,50.27h5.07v5.06h-5.07zM730.16,50.27h5.07v5.06h-5.07zM775.32,50.27h5.07v5.06h-5.07zM785.36,50.27h5.07v5.06h-5.07zM634.82,55.28h5.07v5.06h-5.07zM669.95,55.28h5.07v5.06h-5.07zM730.16,55.28h5.07v5.06h-5.07zM780.34,55.28h5.07v5.06h-5.07zM624.79,60.29h5.07v5.06h-5.07zM669.95,60.29h5.07v5.06h-5.07zM674.97,60.29h5.07v5.06h-5.07zM679.98,60.29h5.07v5.06h-5.07zM685.0,60.29h5.07v5.06h-5.07zM760.27,60.29h5.07v5.06h-5.07zM765.29,60.29h5.07v5.06h-5.07zM770.3,60.29h5.07v5.06h-5.07zM775.32,60.29h5.07v5.06h-5.07zM780.34,60.29h5.07v5.06h-5.07zM785.36,60.29h5.07v5.06h-5.07zM790.38,60.29h5.07v5.06h-5.07zM619.77,65.3h5.07v5.06h-5.07zM624.79,65.3h5.07v5.06h-5.07zM685.0,65.3h5.07v5.06h-5.07zM720.13,65.3h5.07v5.06h-5.07zM619.77,70.31h5.07v5.06h-5.07zM624.79,70.31h5.07v5.06h-5.07zM685.0,70.31h5.07v5.06h-5.07zM705.07,70.31h5.07v5.06h-5.07zM720.13,70.31h5.07v5.06h-5.07zM725.14,70.31h5.07v5.06h-5.07zM624.79,75.32h5.07v5.06h-5.07zM649.88,75.32h5.07v5.06h-5.07zM654.9,75.32h5.07v5.06h-5.07zM679.98,75.32h5.07v5.06h-5.07zM685.0,75.32h5.07v5.06h-5.07zM730.16,75.32h5.07v5.06h-5.07zM755.25,75.32h5.07v5.06h-5.07zM805.43,75.32h5.07v5.06h-5.07zM624.79,80.33h5.07v5.06h-5.07zM659.91,80.33h5.07v5.06h-5.07zM679.98,80.33h5.07v5.06h-5.07zM685.0,80.33h5.07v5.06h-5.07zM805.43,80.33h5.07v5.06h-5.07zM810.45,80.33h5.07v5.06h-5.07zM609.74,85.34h5.07v5.06h-5.07zM629.81,85.34h5.07v5.06h-5.07zM654.9,85.34h5.07v5.06h-5.07zM740.2,85.34h5.07v5.06h-5.07zM810.45,85.34h5.07v5.06h-5.07zM614.75,90.36h5.07v5.06h-5.07zM619.77,90.36h5.07v5.06h-5.07zM679.98,90.36h5.07v5.06h-5.07zM740.2,90.36h5.07v5.06h-5.07zM810.45,90.36h5.07v5.06h-5.07zM609.74,95.37h5.07v5.06h-5.07zM619.77,95.37h5.07v5.06h-5.07zM745.22,95.37h5.07v5.06h-5.07zM805.43,95.37h5.07v5.06h-5.07zM810.45,95.37h5.07v5.06h-5.07zM815.46,95.37h5.07v5.06h-5.07zM619.77,100.38h5.07v5.06h-5.07zM669.95,100.38h5.07v5.06h-5.07zM815.46,100.38h5.07v5.06h-5.07zM654.9,105.39h5.07v5.06h-5.07zM659.91,105.39h5.07v5.06h-5.07zM664.93,105.39h5.07v5.06h-5.07zM674.97,105.39h5.07v5.06h-5.07zM755.25,105.39h5.07v5.06h-5.07zM654.9,110.4h5.07v5.06h-5.07zM669.95,110.4h5.07v5.06h-5.07zM674.97,110.4h5.07v5.06h-5.07zM679.98,110.4h5.07v5.06h-5.07zM705.07,110.4h5.07v5.06h-5.07zM725.14,110.4h5.07v5.06h-5.07zM740.2,110.4h5.07v5.06h-5.07zM750.23,110.4h5.07v5.06h-5.07zM755.25,110.4h5.07v5.06h-5.07zM820.48,110.4h5.07v5.06h-5.07zM614.75,115.41h5.07v5.06h-5.07zM629.81,115.41h5.07v5.06h-5.07zM669.95,115.41h5.07v5.06h-5.07zM674.97,115.41h5.07v5.06h-5.07zM685.0,115.41h5.07v5.06h-5.07zM690.02,115.41h5.07v5.06h-5.07zM700.06,115.41h5.07v5.06h-5.07zM745.22,115.41h5.07v5.06h-5.07zM750.23,115.41h5.07v5.06h-5.07zM755.25,115.41h5.07v5.06h-5.07zM760.27,115.41h5.07v5.06h-5.07zM820.48,115.41h5.07v5.06h-5.07zM609.74,120.42h5.07v5.06h-5.07zM614.75,120.42h5.07v5.06h-5.07zM664.93,120.42h5.07v5.06h-5.07zM669.95,120.42h5.07v5.06h-5.07zM690.02,120.42h5.07v5.06h-5.07zM745.22,120.42h5.07v5.06h-5.07zM755.25,120.42h5.07v5.06h-5.07zM820.48,120.42h5.07v5.06h-5.07zM609.74,125.43h5.07v5.06h-5.07zM614.75,125.43h5.07v5.06h-5.07zM619.77,125.43h5.07v5.06h-5.07zM695.04,125.43h5.07v5.06h-5.07zM745.22,125.43h5.07v5.06h-5.07zM750.23,125.43h5.07v5.06h-5.07zM755.25,125.43h5.07v5.06h-5.07zM614.75,130.44h5.07v5.06h-5.07zM705.07,130.44h5.07v5.06h-5.07zM735.18,130.44h5.07v5.06h-5.07zM740.2,130.44h5.07v5.06h-5.07zM750.23,130.44h5.07v5.06h-5.07zM609.74,135.46h5.07v5.06h-5.07zM614.75,135.46h5.07v5.06h-5.07zM619.77,135.46h5.07v5.06h-5.07zM750.23,135.46h5.07v5.06h-5.07zM755.25,135.46h5.07v5.06h-5.07zM634.82,140.47h5.07v5.06h-5.07zM639.84,140.47h5.07v5.06h-5.07zM750.23,140.47h5.07v5.06h-5.07zM785.36,140.47h5.07v5.06h-5.07zM790.38,140.47h5.07v5.06h-5.07zM745.22,145.48h5.07v5.06h-5.07zM765.29,145.48h5.07v5.06h-5.07zM790.38,145.48h5.07v5.06h-5.07zM795.39,145.48h5.07v5.06h-5.07zM720.13,150.49h5.07v5.06h-5.07zM725.14,150.49h5.07v5.06h-5.07zM730.16,150.49h5.07v5.06h-5.07zM760.27,150.49h5.07v5.06h-5.07zM805.43,150.49h5.07v5.06h-5.07zM674.97,155.5h5.07v5.06h-5.07zM679.98,155.5h5.07v5.06h-5.07zM710.09,155.5h5.07v5.06h-5.07zM745.22,155.5h5.07v5.06h-5.07zM750.23,155.5h5.07v5.06h-5.07zM765.29,155.5h5.07v5.06h-5.07zM810.45,155.5h5.07v5.06h-5.07zM690.02,160.51h5.07v5.06h-5.07zM705.07,160.51h5.07v5.06h-5.07zM715.11,160.51h5.07v5.06h-5.07zM815.46,160.51h5.07v5.06h-5.07zM654.9,165.52h5.07v5.06h-5.07zM659.91,165.52h5.07v5.06h-5.07zM685.0,165.52h5.07v5.06h-5.07zM730.16,165.52h5.07v5.06h-5.07zM745.22,165.52h5.07v5.06h-5.07zM654.9,170.53h5.07v5.06h-5.07zM659.91,170.53h5.07v5.06h-5.07zM690.02,170.53h5.07v5.06h-5.07zM745.22,170.53h5.07v5.06h-5.07zM765.29,170.53h5.07v5.06h-5.07zM770.3,170.53h5.07v5.06h-5.07zM780.34,170.53h5.07v5.06h-5.07zM659.91,175.54h5.07v5.06h-5.07zM690.02,175.54h5.07v5.06h-5.07zM705.07,175.54h5.07v5.06h-5.07zM745.22,175.54h5.07v5.06h-5.07zM755.25,175.54h5.07v5.06h-5.07zM765.29,175.54h5.07v5.06h-5.07zM770.3,175.54h5.07v5.06h-5.07zM790.38,175.54h5.07v5.06h-5.07zM649.88,180.56h5.07v5.06h-5.07zM659.91,180.56h5.07v5.06h-5.07zM750.23,180.56h5.07v5.06h-5.07zM755.25,180.56h5.07v5.06h-5.07zM760.27,180.56h5.07v5.06h-5.07zM765.29,180.56h5.07v5.06h-5.07zM790.38,180.56h5.07v5.06h-5.07zM795.39,180.56h5.07v5.06h-5.07zM614.75,185.57h5.07v5.06h-5.07zM629.81,185.57h5.07v5.06h-5.07zM649.88,185.57h5.07v5.06h-5.07zM659.91,185.57h5.07v5.06h-5.07zM715.11,185.57h5.07v5.06h-5.07zM720.13,185.57h5.07v5.06h-5.07zM745.22,185.57h5.07v5.06h-5.07zM765.29,185.57h5.07v5.06h-5.07zM775.32,185.57h5.07v5.06h-5.07zM790.38,185.57h5.07v5.06h-5.07zM795.39,185.57h5.07v5.06h-5.07zM800.41,185.57h5.07v5.06h-5.07zM619.77,190.58h5.07v5.06h-5.07zM649.88,190.58h5.07v5.06h-5.07zM700.06,190.58h5.07v5.06h-5.07zM705.07,190.58h5.07v5.06h-5.07zM710.09,190.58h5.07v5.06h-5.07zM735.18,190.58h5.07v5.06h-5.07zM740.2,190.58h5.07v5.06h-5.07zM745.22,190.58h5.07v5.06h-5.07zM750.23,190.58h5.07v5.06h-5.07zM755.25,190.58h5.07v5.06h-5.07zM800.41,190.58h5.07v5.06h-5.07zM619.77,195.59h5.07v5.06h-5.07zM639.84,195.59h5.07v5.06h-5.07zM644.86,195.59h5.07v5.06h-5.07zM674.97,195.59h5.07v5.06h-5.07zM695.04,195.59h5.07v5.06h-5.07zM705.07,195.59h5.07v5.06h-5.07zM730.16,195.59h5.07v5.06h-5.07zM750.23,195.59h5.07v5.06h-5.07zM795.39,195.59h5.07v5.06h-5.07zM624.79,200.6h5.07v5.06h-5.07zM634.82,200.6h5.07v5.06h-5.07zM649.88,200.6h5.07v5.06h-5.07zM659.91,200.6h5.07v5.06h-5.07zM664.93,200.6h5.07v5.06h-5.07zM669.95,200.6h5.07v5.06h-5.07zM674.97,200.6h5.07v5.06h-5.07zM705.07,200.6h5.07v5.06h-5.07zM730.16,200.6h5.07v5.06h-5.07zM755.25,200.6h5.07v5.06h-5.07zM629.81,205.61h5.07v5.06h-5.07zM654.9,205.61h5.07v5.06h-5.07zM664.93,205.61h5.07v5.06h-5.07zM730.16,205.61h5.07v5.06h-5.07zM659.91,210.62h5.07v5.06h-5.07zM674.97,210.62h5.07v5.06h-5.07zM679.98,210.62h5.07v5.06h-5.07zM685.0,210.62h5.07v5.06h-5.07zM735.18,210.62h5.07v5.06h-5.07zM765.29,210.62h5.07v5.06h-5.07zM780.34,210.62h5.07v5.06h-5.07zM785.36,210.62h5.07v5.06h-5.07zM664.93,215.63h5.07v5.06h-5.07zM669.95,215.63h5.07v5.06h-5.07zM685.0,215.63h5.07v5.06h-5.07zM690.02,215.63h5.07v5.06h-5.07zM710.09,215.63h5.07v5.06h-5.07zM740.2,215.63h5.07v5.06h-5.07zM775.32,215.63h5.07v5.06h-5.07zM780.34,215.63h5.07v5.06h-5.07zM674.97,220.64h5.07v5.06h-5.07zM690.02,220.64h5.07v5.06h-5.07zM720.13,220.64h5.07v5.06h-5.07zM740.2,220.64h5.07v5.06h-5.07zM669.95,225.66h5.07v5.06h-5.07zM685.0,225.66h5.07v5.06h-5.07zM690.02,225.66h5.07v5.06h-5.07zM715.11,225.66h5.07v5.06h-5.07zM740.2,225.66h5.07v5.06h-5.07zM659.91,230.67h5.07v5.06h-5.07zM664.93,230.67h5.07v5.06h-5.07zM674.97,230.67h5.07v5.06h-5.07zM679.98,230.67h5.07v5.06h-5.07zM685.0,230.67h5.07v5.06h-5.07zM715.11,230.67h5.07v5.06h-5.07zM745.22,230.67h5.07v5.06h-5.07zM679.98,235.68h5.07v5.06h-5.07zM690.02,235.68h5.07v5.06h-5.07zM720.13,235.68h5.07v5.06h-5.07zM745.22,235.68h5.07v5.06h-5.07zM690.02,240.69h5.07v5.06h-5.07z"/>
<path fill="#ca3e72" d="M690.02,30.22h5.07v5.06h-5.07zM679.98,35.23h5.07v5.06h-5.07zM659.91,40.24h5.07v5.06h-5.07zM659.91,45.26h5.07v5.06h-5.07zM659.91,50.27h5.07v5.06h-5.07zM750.23,50.27h5.07v5.06h-5.07zM639.84,55.28h5.07v5.06h-5.07zM644.86,65.3h5.07v5.06h-5.07zM735.18,65.3h5.07v5.06h-5.07zM740.2,65.3h5.07v5.06h-5.07zM654.9,70.31h5.07v5.06h-5.07zM634.82,75.32h5.07v5.06h-5.07zM659.91,75.32h5.07v5.06h-5.07zM669.95,75.32h5.07v5.06h-5.07zM669.95,85.34h5.07v5.06h-5.07zM649.88,90.36h5.07v5.06h-5.07zM609.74,100.38h5.07v5.06h-5.07zM634.82,105.39h5.07v5.06h-5.07zM760.27,105.39h5.07v5.06h-5.07zM639.84,110.4h5.07v5.06h-5.07zM644.86,110.4h5.07v5.06h-5.07zM725.14,115.41h5.07v5.06h-5.07zM639.84,120.42h5.07v5.06h-5.07zM649.88,120.42h5.07v5.06h-5.07zM654.9,120.42h5.07v5.06h-5.07zM705.07,120.42h5.07v5.06h-5.07zM669.95,125.43h5.07v5.06h-5.07zM700.06,125.43h5.07v5.06h-5.07zM730.16,125.43h5.07v5.06h-5.07zM700.06,130.44h5.07v5.06h-5.07zM685.0,135.46h5.07v5.06h-5.07zM700.06,135.46h5.07v5.06h-5.07zM740.2,135.46h5.07v5.06h-5.07zM669.95,140.47h5.07v5.06h-5.07zM715.11,140.47h5.07v5.06h-5.07zM735.18,140.47h5.07v5.06h-5.07zM720.13,145.48h5.07v5.06h-5.07zM669.95,150.49h5.07v5.06h-5.07zM664.93,155.5h5.07v5.06h-5.07zM700.06,160.51h5.07v5.06h-5.07zM790.38,160.51h5.07v5.06h-5.07zM664.93,165.52h5.07v5.06h-5.07zM700.06,165.52h5.07v5.06h-5.07zM765.29,165.52h5.07v5.06h-5.07zM800.41,170.53h5.07v5.06h-5.07zM685.0,185.57h5.07v5.06h-5.07zM755.25,185.57h5.07v5.06h-5.07zM674.97,205.61h5.07v5.06h-5.07zM765.29,225.66h5.07v5.06h-5.07z"/>
<path fill="#681c81" d="M735.18,30.22h5.07v5.06h-5.07z"/>
<path fill="#a1307e" d="M760.27,30.22h5.07v5.06h-5.07zM690.02,35.23h5.07v5.06h-5.07zM649.88,45.26h5.07v5.06h-5.07zM664.93,45.26h5.07v5.06h-5.07zM730.16,45.26h5.07v5.06h-5.07zM735.18,45.26h5.07v5.06h-5.07zM765.29,45.26h5.07v5.06h-5.07zM654.9,50.27h5.07v5.06h-5.07zM735.18,50.27h5.07v5.06h-5.07zM649.88,55.28h5.07v5.06h-5.07zM659.91,55.28h5.07v5.06h-5.07zM755.25,55.28h5.07v5.06h-5.07zM629.81,60.29h5.07v5.06h-5.07zM639.84,60.29h5.07v5.06h-5.07zM644.86,60.29h5.07v5.06h-5.07zM649.88,60.29h5.07v5.06h-5.07zM649.88,65.3h5.07v5.06h-5.07zM730.16,65.3h5.07v5.06h-5.07zM644.86,70.31h5.07v5.06h-5.07zM735.18,70.31h5.07v5.06h-5.07zM750.23,70.31h5.07v5.06h-5.07zM750.23,75.32h5.07v5.06h-5.07zM644.86,80.33h5.07v5.06h-5.07zM664.93,80.33h5.07v5.06h-5.07zM674.97,80.33h5.07v5.06h-5.07zM644.86,85.34h5.07v5.06h-5.07zM649.88,85.34h5.07v5.06h-5.07zM755.25,85.34h5.07v5.06h-5.07zM659.91,90.36h5.07v5.06h-5.07zM669.95,90.36h5.07v5.06h-5.07zM750.23,90.36h5.07v5.06h-5.07zM669.95,95.37h5.07v5.06h-5.07zM644.86,100.38h5.07v5.06h-5.07zM649.88,100.38h5.07v5.06h-5.07zM629.81,105.39h5.07v5.06h-5.07zM629.81,110.4h5.07v5.06h-5.07zM770.3,110.4h5.07v5.06h-5.07zM644.86,115.41h5.07v5.06h-5.07zM685.0,120.42h5.07v5.06h-5.07zM720.13,120.42h5.07v5.06h-5.07zM730.16,120.42h5.07v5.06h-5.07zM599.7,125.43h5.07v5.06h-5.07zM639.84,130.44h5.07v5.06h-5.07zM760.27,130.44h5.07v5.06h-5.07zM725.14,140.47h5.07v5.06h-5.07zM745.22,140.47h5.07v5.06h-5.07zM755.25,140.47h5.07v5.06h-5.07zM770.3,145.48h5.07v5.06h-5.07zM649.88,150.49h5.07v5.06h-5.07zM700.06,150.49h5.07v5.06h-5.07zM654.9,155.5h5.07v5.06h-5.07zM695.04,155.5h5.07v5.06h-5.07zM715.11,155.5h5.07v5.06h-5.07zM720.13,155.5h5.07v5.06h-5.07zM775.32,155.5h5.07v5.06h-5.07zM760.27,160.51h5.07v5.06h-5.07zM679.98,165.52h5.07v5.06h-5.07zM705.07,165.52h5.07v5.06h-5.07zM750.23,165.52h5.07v5.06h-5.07zM795.39,165.52h5.07v5.06h-5.07zM674.97,170.53h5.07v5.06h-5.07zM810.45,170.53h5.07v5.06h-5.07zM674.97,175.54h5.07v5.06h-5.07zM800.41,175.54h5.07v5.06h-5.07zM664.93,180.56h5.07v5.06h-5.07zM679.98,190.58h5.07v5.06h-5.07zM634.82,195.59h5.07v5.06h-5.07zM654.9,195.59h5.07v5.06h-5.07zM700.06,195.59h5.07v5.06h-5.07zM700.06,200.6h5.07v5.06h-5.07zM659.91,205.61h5.07v5.06h-5.07zM740.2,205.61h5.07v5.06h-5.07zM700.06,210.62h5.07v5.06h-5.07zM705.07,210.62h5.07v5.06h-5.07zM750.23,210.62h5.07v5.06h-5.07zM705.07,215.63h5.07v5.06h-5.07zM745.22,215.63h5.07v5.06h-5.07zM755.25,215.63h5.07v5.06h-5.07zM669.95,220.64h5.07v5.06h-5.07zM700.06,220.64h5.07v5.06h-5.07zM710.09,230.67h5.07v5.06h-5.07zM760.27,230.67h5.07v5.06h-5.07zM695.04,240.69h5.07v5.06h-5.07z"/>
<path fill="#fe9f6d" d="M654.9,35.23h5.07v5.06h-5.07zM664.93,90.36h5.07v5.06h-5.07zM765.29,105.39h5.07v5.06h-5.07zM639.84,115.41h5.07v5.06h-5.07zM765.29,125.43h5.07v5.06h-5.07zM664.93,130.44h5.07v5.06h-5.07zM765.29,130.44h5.07v5.06h-5.07zM649.88,135.46h5.07v5.06h-5.07zM659.91,135.46h5.07v5.06h-5.07zM674.97,135.46h5.07v5.06h-5.07zM720.13,135.46h5.07v5.06h-5.07zM765.29,135.46h5.07v5.06h-5.07zM664.93,145.48h5.07v5.06h-5.07zM669.95,145.48h5.07v5.06h-5.07zM659.91,160.51h5.07v5.06h-5.07zM770.3,220.64h5.07v5.06h-5.07z"/>
<path fill="#3b0f70" d="M695.04,35.23h5.07v5.06h-5.07zM705.07,35.23h5.07v5.06h-5.07zM710.09,35.23h5.07v5.06h-5.07zM715.11,35.23h5.07v5.06h-5.07zM720.13,35.23h5.07v5.06h-5.07zM690.02,40.24h5.07v5.06h-5.07zM700.06,40.24h5.07v5.06h-5.07zM720.13,40.24h5.07v5.06h-5.07zM725.14,40.24h5.07v5.06h-5.07zM720.13,45.26h5.07v5.06h-5.07zM725.14,45.26h5.07v5.06h-5.07zM685.0,50.27h5.07v5.06h-5.07zM725.14,50.27h5.07v5.06h-5.07zM674.97,55.28h5.07v5.06h-5.07zM679.98,55.28h5.07v5.06h-5.07zM690.02,60.29h5.07v5.06h-5.07zM720.13,60.29h5.07v5.06h-5.07zM690.02,65.3h5.07v5.06h-5.07zM700.06,65.3h5.07v5.06h-5.07zM715.11,65.3h5.07v5.06h-5.07zM700.06,70.31h5.07v5.06h-5.07zM715.11,70.31h5.07v5.06h-5.07zM614.75,75.32h5.07v5.06h-5.07zM715.11,75.32h5.07v5.06h-5.07zM614.75,80.33h5.07v5.06h-5.07zM720.13,80.33h5.07v5.06h-5.07zM725.14,80.33h5.07v5.06h-5.07zM619.77,85.34h5.07v5.06h-5.07zM685.0,85.34h5.07v5.06h-5.07zM730.16,85.34h5.07v5.06h-5.07zM735.18,85.34h5.07v5.06h-5.07zM609.74,90.36h5.07v5.06h-5.07zM685.0,90.36h5.07v5.06h-5.07zM735.18,90.36h5.07v5.06h-5.07zM674.97,95.37h5.07v5.06h-5.07zM700.06,95.37h5.07v5.06h-5.07zM740.2,95.37h5.07v5.06h-5.07zM700.06,100.38h5.07v5.06h-5.07zM740.2,100.38h5.07v5.06h-5.07zM745.22,100.38h5.07v5.06h-5.07zM685.0,105.39h5.07v5.06h-5.07zM690.02,105.39h5.07v5.06h-5.07zM700.06,105.39h5.07v5.06h-5.07zM745.22,105.39h5.07v5.06h-5.07zM659.91,110.4h5.07v5.06h-5.07zM695.04,110.4h5.07v5.06h-5.07zM700.06,110.4h5.07v5.06h-5.07zM659.91,115.41h5.07v5.06h-5.07zM820.48,125.43h5.07v5.06h-5.07zM815.46,130.44h5.07v5.06h-5.07zM820.48,130.44h5.07v5.06h-5.07zM634.82,135.46h5.07v5.06h-5.07zM815.46,135.46h5.07v5.06h-5.07zM820.48,135.46h5.07v5.06h-5.07zM800.41,140.47h5.07v5.06h-5.07zM805.43,140.47h5.07v5.06h-5.07zM810.45,140.47h5.07v5.06h-5.07zM820.48,140.47h5.07v5.06h-5.07zM800.41,145.48h5.07v5.06h-5.07zM815.46,145.48h5.07v5.06h-5.07zM820.48,145.48h5.07v5.06h-5.07zM765.29,150.49h5.07v5.06h-5.07zM810.45,150.49h5.07v5.06h-5.07zM820.48,150.49h5.07v5.06h-5.07zM815.46,155.5h5.07v5.06h-5.07zM690.02,165.52h5.07v5.06h-5.07zM725.14,165.52h5.07v5.06h-5.07zM740.2,165.52h5.07v5.06h-5.07zM735.18,170.53h5.07v5.06h-5.07zM740.2,170.53h5.07v5.06h-5.07zM649.88,175.54h5.07v5.06h-5.07zM775.32,175.54h5.07v5.06h-5.07zM780.34,175.54h5.07v5.06h-5.07zM654.9,180.56h5.07v5.06h-5.07zM710.09,180.56h5.07v5.06h-5.07zM730.16,180.56h5.07v5.06h-5.07zM735.18,180.56h5.07v5.06h-5.07zM624.79,185.57h5.07v5.06h-5.07zM654.9,185.57h5.07v5.06h-5.07zM700.06,185.57h5.07v5.06h-5.07zM705.07,185.57h5.07v5.06h-5.07zM725.14,185.57h5.07v5.06h-5.07zM735.18,185.57h5.07v5.06h-5.07zM780.34,185.57h5.07v5.06h-5.07zM654.9,190.58h5.07v5.06h-5.07zM659.91,190.58h5.07v5.06h-5.07zM664.93,190.58h5.07v5.06h-5.07zM669.95,190.58h5.07v5.06h-5.07zM695.04,190.58h5.07v5.06h-5.07zM715.11,190.58h5.07v5.06h-5.07zM780.34,190.58h5.07v5.06h-5.07zM659.91,195.59h5.07v5.06h-5.07zM664.93,195.59h5.07v5.06h-5.07zM669.95,195.59h5.07v5.06h-5.07zM725.14,195.59h5.07v5.06h-5.07zM760.27,195.59h5.07v5.06h-5.07zM775.32,195.59h5.07v5.06h-5.07zM780.34,195.59h5.07v5.06h-5.07zM785.36,195.59h5.07v5.06h-5.07zM790.38,195.59h5.07v5.06h-5.07zM654.9,200.6h5.07v5.06h-5.07zM710.09,200.6h5.07v5.06h-5.07zM715.11,200.6h5.07v5.06h-5.07zM765.29,200.6h5.07v5.06h-5.07zM790.38,200.6h5.07v5.06h-5.07zM639.84,205.61h5.07v5.06h-5.07zM710.09,205.61h5.07v5.06h-5.07zM720.13,205.61h5.07v5.06h-5.07zM725.14,205.61h5.07v5.06h-5.07zM765.29,205.61h5.07v5.06h-5.07zM770.3,205.61h5.07v5.06h-5.07zM775.32,205.61h5.07v5.06h-5.07zM780.34,205.61h5.07v5.06h-5.07zM639.84,210.62h5.07v5.06h-5.07zM649.88,210.62h5.07v5.06h-5.07zM710.09,210.62h5.07v5.06h-5.07zM720.13,210.62h5.07v5.06h-5.07zM639.84,215.63h5.07v5.06h-5.07zM649.88,215.63h5.07v5.06h-5.07zM720.13,215.63h5.07v5.06h-5.07zM725.14,215.63h5.07v5.06h-5.07zM735.18,215.63h5.07v5.06h-5.07zM644.86,220.64h5.07v5.06h-5.07zM649.88,220.64h5.07v5.06h-5.07zM654.9,220.64h5.07v5.06h-5.07zM730.16,220.64h5.07v5.06h-5.07zM735.18,220.64h5.07v5.06h-5.07zM654.9,225.66h5.07v5.06h-5.07zM730.16,225.66h5.07v5.06h-5.07zM735.18,225.66h5.07v5.06h-5.07zM720.13,230.67h5.07v5.06h-5.07zM725.14,230.67h5.07v5.06h-5.07zM730.16,230.67h5.07v5.06h-5.07zM725.14,240.69h5.07v5.06h-5.07zM730.16,240.69h5.07v5.06h-5.07z"/>
<path fill="#251255" d="M700.06,35.23h5.07v5.06h-5.07zM695.04,40.24h5.07v5.06h-5.07zM679.98,45.26h5.07v5.06h-5.07zM685.0,45.26h5.07v5.06h-5.07zM705.07,45.26h5.07v5.06h-5.07zM674.97,50.27h5.07v5.06h-5.07zM679.98,50.27h5.07v5.06h-5.07zM720.13,50.27h5.07v5.06h-5.07zM720.13,55.28h5.07v5.06h-5.07zM695.04,60.29h5.07v5.06h-5.07zM715.11,60.29h5.07v5.06h-5.07zM695.04,65.3h5.07v5.06h-5.07zM710.09,65.3h5.07v5.06h-5.07zM690.02,70.31h5.07v5.06h-5.07zM715.11,80.33h5.07v5.06h-5.07zM720.13,85.34h5.07v5.06h-5.07zM725.14,85.34h5.07v5.06h-5.07zM730.16,90.36h5.07v5.06h-5.07zM685.0,95.37h5.07v5.06h-5.07zM690.02,95.37h5.07v5.06h-5.07zM735.18,95.37h5.07v5.06h-5.07zM690.02,100.38h5.07v5.06h-5.07zM735.18,100.38h5.07v5.06h-5.07zM695.04,105.39h5.07v5.06h-5.07zM740.2,105.39h5.07v5.06h-5.07zM710.09,110.4h5.07v5.06h-5.07zM720.13,110.4h5.07v5.06h-5.07zM664.93,115.41h5.07v5.06h-5.07zM805.43,145.48h5.07v5.06h-5.07zM810.45,145.48h5.07v5.06h-5.07zM815.46,150.49h5.07v5.06h-5.07zM710.09,165.52h5.07v5.06h-5.07zM715.11,165.52h5.07v5.06h-5.07zM735.18,165.52h5.07v5.06h-5.07zM710.09,170.53h5.07v5.06h-5.07zM720.13,170.53h5.07v5.06h-5.07zM725.14,170.53h5.07v5.06h-5.07zM725.14,175.54h5.07v5.06h-5.07zM730.16,175.54h5.07v5.06h-5.07zM725.14,180.56h5.07v5.06h-5.07zM715.11,195.59h5.07v5.06h-5.07zM765.29,195.59h5.07v5.06h-5.07zM770.3,195.59h5.07v5.06h-5.07zM770.3,200.6h5.07v5.06h-5.07zM775.32,200.6h5.07v5.06h-5.07zM780.34,200.6h5.07v5.06h-5.07zM785.36,200.6h5.07v5.06h-5.07zM644.86,210.62h5.07v5.06h-5.07zM725.14,210.62h5.07v5.06h-5.07zM730.16,210.62h5.07v5.06h-5.07zM654.9,215.63h5.07v5.06h-5.07zM664.93,220.64h5.07v5.06h-5.07zM725.14,220.64h5.07v5.06h-5.07zM725.14,225.66h5.07v5.06h-5.07zM735.18,230.67h5.07v5.06h-5.07zM725.14,235.68h5.07v5.06h-5.07zM730.16,235.68h5.07v5.06h-5.07zM735.18,235.68h5.07v5.06h-5.07z"/>
<path fill="#331067" d="M710.09,40.24h5.07v5.06h-5.07zM725.14,55.28h5.07v5.06h-5.07zM710.09,70.31h5.07v5.06h-5.07z"/>
<path fill="#140e36" d="M690.02,45.26h5.07v5.06h-5.07zM695.04,45.26h5.07v5.06h-5.07zM700.06,45.26h5.07v5.06h-5.07zM710.09,45.26h5.07v5.06h-5.07zM715.11,45.26h5.07v5.06h-5.07zM690.02,50.27h5.07v5.06h-5.07zM695.04,50.27h5.07v5.06h-5.07zM700.06,50.27h5.07v5.06h-5.07zM705.07,50.27h5.07v5.06h-5.07zM710.09,50.27h5.07v5.06h-5.07zM715.11,50.27h5.07v5.06h-5.07zM685.0,55.28h5.07v5.06h-5.07zM690.02,55.28h5.07v5.06h-5.07zM695.04,55.28h5.07v5.06h-5.07zM700.06,55.28h5.07v5.06h-5.07zM705.07,55.28h5.07v5.06h-5.07zM710.09,55.28h5.07v5.06h-5.07zM715.11,55.28h5.07v5.06h-5.07zM700.06,60.29h5.07v5.06h-5.07zM705.07,60.29h5.07v5.06h-5.07zM710.09,60.29h5.07v5.06h-5.07zM705.07,65.3h5.07v5.06h-5.07zM695.04,70.31h5.07v5.06h-5.07zM690.02,75.32h5.07v5.06h-5.07zM695.04,75.32h5.07v5.06h-5.07zM700.06,75.32h5.07v5.06h-5.07zM705.07,75.32h5.07v5.06h-5.07zM710.09,75.32h5.07v5.06h-5.07zM690.02,80.33h5.07v5.06h-5.07zM700.06,80.33h5.07v5.06h-5.07zM705.07,80.33h5.07v5.06h-5.07zM710.09,80.33h5.07v5.06h-5.07zM690.02,85.34h5.07v5.06h-5.07zM695.04,85.34h5.07v5.06h-5.07zM700.06,85.34h5.07v5.06h-5.07zM705.07,85.34h5.07v5.06h-5.07zM710.09,85.34h5.07v5.06h-5.07zM715.11,85.34h5.07v5.06h-5.07zM690.02,90.36h5.07v5.06h-5.07zM705.07,90.36h5.07v5.06h-5.07zM710.09,90.36h5.07v5.06h-5.07zM715.11,90.36h5.07v5.06h-5.07zM720.13,90.36h5.07v5.06h-5.07zM725.14,90.36h5.07v5.06h-5.07zM679.98,95.37h5.07v5.06h-5.07zM695.04,95.37h5.07v5.06h-5.07zM705.07,95.37h5.07v5.06h-5.07zM715.11,95.37h5.07v5.06h-5.07zM720.13,95.37h5.07v5.06h-5.07zM725.14,95.37h5.07v5.06h-5.07zM730.16,95.37h5.07v5.06h-5.07zM679.98,100.38h5.07v5.06h-5.07zM685.0,100.38h5.07v5.06h-5.07zM695.04,100.38h5.07v5.06h-5.07zM705.07,100.38h5.07v5.06h-5.07zM715.11,100.38h5.07v5.06h-5.07zM720.13,100.38h5.07v5.06h-5.07zM725.14,100.38h5.07v5.06h-5.07zM730.16,100.38h5.07v5.06h-5.07zM705.07,105.39h5.07v5.06h-5.07zM720.13,105.39h5.07v5.06h-5.07zM725.14,105.39h5.07v5.06h-5.07zM730.16,105.39h5.07v5.06h-5.07zM735.18,105.39h5.07v5.06h-5.07zM715.11,110.4h5.07v5.06h-5.07zM715.11,170.53h5.07v5.06h-5.07zM710.09,175.54h5.07v5.06h-5.07zM720.13,175.54h5.07v5.06h-5.07zM735.18,175.54h5.07v5.06h-5.07zM705.07,180.56h5.07v5.06h-5.07zM644.86,215.63h5.07v5.06h-5.07zM730.16,215.63h5.07v5.06h-5.07z"/>
<path fill="#fc8961" d="M664.93,50.27h5.07v5.06h-5.07zM659.91,65.3h5.07v5.06h-5.07zM644.86,95.37h5.07v5.06h-5.07zM669.95,130.44h5.07v5.06h-5.07zM705.07,135.46h5.07v5.06h-5.07zM715.11,135.46h5.07v5.06h-5.07zM679.98,140.47h5.07v5.06h-5.07zM654.9,145.48h5.07v5.06h-5.07zM659.91,145.48h5.07v5.06h-5.07zM679.98,145.48h5.07v5.06h-5.07zM659.91,150.49h5.07v5.06h-5.07zM745.22,150.49h5.07v5.06h-5.07zM780.34,150.49h5.07v5.06h-5.07zM715.11,240.69h5.07v5.06h-5.07z"/>
<path fill="#52137c" d="M760.27,65.3h5.07v5.06h-5.07zM775.32,65.3h5.07v5.06h-5.07zM780.34,65.3h5.07v5.06h-5.07zM785.36,65.3h5.07v5.06h-5.07zM790.38,65.3h5.07v5.06h-5.07zM800.41,65.3h5.07v5.06h-5.07zM760.27,70.31h5.07v5.06h-5.07zM795.39,70.31h5.07v5.06h-5.07zM800.41,70.31h5.07v5.06h-5.07zM760.27,75.32h5.07v5.06h-5.07zM800.41,75.32h5.07v5.06h-5.07zM760.27,80.33h5.07v5.06h-5.07zM800.41,80.33h5.07v5.06h-5.07zM760.27,85.34h5.07v5.06h-5.07zM760.27,95.37h5.07v5.06h-5.07zM765.29,95.37h5.07v5.06h-5.07z"/>
<path fill="#271258" d="M765.29,65.3h5.07v5.06h-5.07zM785.36,70.31h5.07v5.06h-5.07zM765.29,75.32h5.07v5.06h-5.07zM770.3,75.32h5.07v5.06h-5.07zM775.32,75.32h5.07v5.06h-5.07zM780.34,75.32h5.07v5.06h-5.07zM785.36,75.32h5.07v5.06h-5.07zM765.29,80.33h5.07v5.06h-5.07zM770.3,80.33h5.07v5.06h-5.07zM775.32,80.33h5.07v5.06h-5.07zM790.38,80.33h5.07v5.06h-5.07zM795.39,80.33h5.07v5.06h-5.07zM765.29,85.34h5.07v5.06h-5.07zM770.3,85.34h5.07v5.06h-5.07zM775.32,85.34h5.07v5.06h-5.07zM790.38,85.34h5.07v5.06h-5.07zM795.39,85.34h5.07v5.06h-5.07zM770.3,90.36h5.07v5.06h-5.07zM775.32,90.36h5.07v5.06h-5.07zM780.34,90.36h5.07v5.06h-5.07zM785.36,90.36h5.07v5.06h-5.07zM790.38,90.36h5.07v5.06h-5.07zM795.39,90.36h5.07v5.06h-5.07zM800.41,90.36h5.07v5.06h-5.07zM775.32,95.37h5.07v5.06h-5.07zM780.34,95.37h5.07v5.06h-5.07zM800.41,95.37h5.07v5.06h-5.07z"/>
<path fill="#3d0f71" d="M770.3,65.3h5.07v5.06h-5.07zM765.29,70.31h5.07v5.06h-5.07zM770.3,70.31h5.07v5.06h-5.07zM775.32,70.31h5.07v5.06h-5.07zM780.34,70.31h5.07v5.06h-5.07zM790.38,70.31h5.07v5.06h-5.07zM790.38,75.32h5.07v5.06h-5.07zM795.39,75.32h5.07v5.06h-5.07zM800.41,85.34h5.07v5.06h-5.07zM765.29,90.36h5.07v5.06h-5.07zM770.3,95.37h5.07v5.06h-5.07zM785.36,95.37h5.07v5.06h-5.07zM790.38,95.37h5.07v5.06h-5.07zM795.39,95.37h5.07v5.06h-5.07z"/>
<path fill="#792282" d="M795.39,65.3h5.07v5.06h-5.07z"/>
<path fill="#ed5a5f" d="M664.93,70.31h5.07v5.06h-5.07zM664.93,85.34h5.07v5.06h-5.07zM765.29,120.42h5.07v5.06h-5.07zM659.91,125.43h5.07v5.06h-5.07zM720.13,125.43h5.07v5.06h-5.07zM674.97,130.44h5.07v5.06h-5.07zM685.0,130.44h5.07v5.06h-5.07zM599.7,135.46h5.07v5.06h-5.07zM730.16,135.46h5.07v5.06h-5.07zM624.79,140.47h5.07v5.06h-5.07zM659.91,140.47h5.07v5.06h-5.07zM674.97,140.47h5.07v5.06h-5.07zM710.09,140.47h5.07v5.06h-5.07zM775.32,140.47h5.07v5.06h-5.07zM785.36,150.49h5.07v5.06h-5.07zM805.43,155.5h5.07v5.06h-5.07zM740.2,160.51h5.07v5.06h-5.07zM780.34,160.51h5.07v5.06h-5.07zM805.43,160.51h5.07v5.06h-5.07zM800.41,165.52h5.07v5.06h-5.07zM679.98,170.53h5.07v5.06h-5.07zM805.43,175.54h5.07v5.06h-5.07zM805.43,180.56h5.07v5.06h-5.07zM750.23,215.63h5.07v5.06h-5.07zM700.06,240.69h5.07v5.06h-5.07z"/>
<path fill="#f7705c" d="M639.84,75.32h5.07v5.06h-5.07zM664.93,75.32h5.07v5.06h-5.07zM654.9,95.37h5.07v5.06h-5.07zM765.29,110.4h5.07v5.06h-5.07zM765.29,115.41h5.07v5.06h-5.07zM644.86,125.43h5.07v5.06h-5.07zM649.88,125.43h5.07v5.06h-5.07zM654.9,125.43h5.07v5.06h-5.07zM674.97,125.43h5.07v5.06h-5.07zM644.86,130.44h5.07v5.06h-5.07zM715.11,130.44h5.07v5.06h-5.07zM720.13,130.44h5.07v5.06h-5.07zM770.3,130.44h5.07v5.06h-5.07zM644.86,135.46h5.07v5.06h-5.07zM679.98,135.46h5.07v5.06h-5.07zM770.3,135.46h5.07v5.06h-5.07zM649.88,140.47h5.07v5.06h-5.07zM730.16,140.47h5.07v5.06h-5.07zM760.27,140.47h5.07v5.06h-5.07zM674.97,145.48h5.07v5.06h-5.07zM685.0,145.48h5.07v5.06h-5.07zM690.02,145.48h5.07v5.06h-5.07zM654.9,150.49h5.07v5.06h-5.07zM755.25,150.49h5.07v5.06h-5.07zM780.34,155.5h5.07v5.06h-5.07zM795.39,155.5h5.07v5.06h-5.07zM649.88,160.51h5.07v5.06h-5.07zM654.9,160.51h5.07v5.06h-5.07zM664.93,160.51h5.07v5.06h-5.07zM795.39,160.51h5.07v5.06h-5.07zM800.41,160.51h5.07v5.06h-5.07zM810.45,165.52h5.07v5.06h-5.07zM770.3,215.63h5.07v5.06h-5.07zM750.23,220.64h5.07v5.06h-5.07z"/>
<path fill="#06051a" d="M695.04,80.33h5.07v5.06h-5.07zM695.04,90.36h5.07v5.06h-5.07zM700.06,90.36h5.07v5.06h-5.07zM710.09,95.37h5.07v5.06h-5.07zM710.09,100.38h5.07v5.06h-5.07zM715.11,105.39h5.07v5.06h-5.07z"/>
<path fill="#150e38" d="M780.34,80.33h5.07v5.06h-5.07zM785.36,80.33h5.07v5.06h-5.07zM780.34,85.34h5.07v5.06h-5.07zM785.36,85.34h5.07v5.06h-5.07z"/>
<path fill="#671b80" d="M760.27,90.36h5.07v5.06h-5.07z"/>
<path fill="#2d1161" d="M775.32,100.38h5.07v5.06h-5.07zM780.34,100.38h5.07v5.06h-5.07zM785.36,100.38h5.07v5.06h-5.07zM790.38,100.38h5.07v5.06h-5.07zM795.39,100.38h5.07v5.06h-5.07zM800.41,100.38h5.07v5.06h-5.07zM805.43,100.38h5.07v5.06h-5.07zM775.32,105.39h5.07v5.06h-5.07zM785.36,105.39h5.07v5.06h-5.07zM790.38,105.39h5.07v5.06h-5.07zM795.39,105.39h5.07v5.06h-5.07zM800.41,105.39h5.07v5.06h-5.07zM805.43,105.39h5.07v5.06h-5.07zM780.34,110.4h5.07v5.06h-5.07zM790.38,110.4h5.07v5.06h-5.07zM795.39,110.4h5.07v5.06h-5.07zM780.34,115.41h5.07v5.06h-5.07zM795.39,115.41h5.07v5.06h-5.07zM785.36,120.42h5.07v5.06h-5.07zM810.45,125.43h5.07v5.06h-5.07zM805.43,130.44h5.07v5.06h-5.07zM805.43,135.46h5.07v5.06h-5.07zM614.75,145.48h5.07v5.06h-5.07zM634.82,145.48h5.07v5.06h-5.07zM604.72,150.49h5.07v5.06h-5.07zM609.74,150.49h5.07v5.06h-5.07zM619.77,150.49h5.07v5.06h-5.07zM624.79,150.49h5.07v5.06h-5.07zM604.72,155.5h5.07v5.06h-5.07zM609.74,155.5h5.07v5.06h-5.07zM614.75,155.5h5.07v5.06h-5.07zM619.77,155.5h5.07v5.06h-5.07zM629.81,155.5h5.07v5.06h-5.07zM629.81,160.51h5.07v5.06h-5.07zM619.77,165.52h5.07v5.06h-5.07zM634.82,165.52h5.07v5.06h-5.07zM639.84,165.52h5.07v5.06h-5.07zM609.74,170.53h5.07v5.06h-5.07zM614.75,170.53h5.07v5.06h-5.07zM619.77,170.53h5.07v5.06h-5.07zM634.82,170.53h5.07v5.06h-5.07zM639.84,170.53h5.07v5.06h-5.07zM629.81,175.54h5.07v5.06h-5.07zM634.82,175.54h5.07v5.06h-5.07zM624.79,180.56h5.07v5.06h-5.07zM629.81,180.56h5.07v5.06h-5.07zM634.82,180.56h5.07v5.06h-5.07z"/>
<path fill="#440f76" d="M810.45,100.38h5.07v5.06h-5.07zM810.45,105.39h5.07v5.06h-5.07zM775.32,110.4h5.07v5.06h-5.07zM785.36,110.4h5.07v5.06h-5.07zM800.41,110.4h5.07v5.06h-5.07zM810.45,110.4h5.07v5.06h-5.07zM785.36,115.41h5.07v5.06h-5.07zM790.38,115.41h5.07v5.06h-5.07zM800.41,115.41h5.07v5.06h-5.07zM810.45,115.41h5.07v5.06h-5.07zM800.41,120.42h5.07v5.06h-5.07zM810.45,120.42h5.07v5.06h-5.07zM785.36,125.43h5.07v5.06h-5.07zM800.41,125.43h5.07v5.06h-5.07zM805.43,125.43h5.07v5.06h-5.07zM810.45,130.44h5.07v5.06h-5.07zM780.34,135.46h5.07v5.06h-5.07zM800.41,135.46h5.07v5.06h-5.07zM810.45,135.46h5.07v5.06h-5.07zM619.77,145.48h5.07v5.06h-5.07zM629.81,150.49h5.07v5.06h-5.07zM624.79,155.5h5.07v5.06h-5.07zM604.72,160.51h5.07v5.06h-5.07zM609.74,160.51h5.07v5.06h-5.07zM614.75,160.51h5.07v5.06h-5.07zM619.77,160.51h5.07v5.06h-5.07zM624.79,160.51h5.07v5.06h-5.07zM604.72,165.52h5.07v5.06h-5.07zM609.74,165.52h5.07v5.06h-5.07zM614.75,165.52h5.07v5.06h-5.07zM644.86,165.52h5.07v5.06h-5.07zM624.79,170.53h5.07v5.06h-5.07zM629.81,170.53h5.07v5.06h-5.07zM609.74,175.54h5.07v5.06h-5.07zM614.75,175.54h5.07v5.06h-5.07zM619.77,175.54h5.07v5.06h-5.07zM614.75,180.56h5.07v5.06h-5.07zM619.77,180.56h5.07v5.06h-5.07z"/>
<path fill="#0e0b2b" d="M710.09,105.39h5.07v5.06h-5.07z"/>
<path fill="#1a1042" d="M780.34,105.39h5.07v5.06h-5.07zM614.75,150.49h5.07v5.06h-5.07zM644.86,170.53h5.07v5.06h-5.07zM639.84,175.54h5.07v5.06h-5.07zM644.86,175.54h5.07v5.06h-5.07z"/>
<path fill="#6b1d81" d="M805.43,110.4h5.07v5.06h-5.07zM790.38,125.43h5.07v5.06h-5.07zM790.38,130.44h5.07v5.06h-5.07zM639.84,150.49h5.07v5.06h-5.07zM639.84,155.5h5.07v5.06h-5.07zM624.79,165.52h5.07v5.06h-5.07z"/>
<path fill="#701f81" d="M710.09,115.41h5.07v5.06h-5.07z"/>
<path fill="#59157e" d="M775.32,115.41h5.07v5.06h-5.07zM805.43,115.41h5.07v5.06h-5.07zM775.32,120.42h5.07v5.06h-5.07zM780.34,120.42h5.07v5.06h-5.07zM790.38,120.42h5.07v5.06h-5.07zM795.39,120.42h5.07v5.06h-5.07zM805.43,120.42h5.07v5.06h-5.07zM775.32,125.43h5.07v5.06h-5.07zM780.34,125.43h5.07v5.06h-5.07zM795.39,125.43h5.07v5.06h-5.07zM780.34,130.44h5.07v5.06h-5.07zM785.36,130.44h5.07v5.06h-5.07zM795.39,130.44h5.07v5.06h-5.07zM800.41,130.44h5.07v5.06h-5.07zM785.36,135.46h5.07v5.06h-5.07zM790.38,135.46h5.07v5.06h-5.07zM795.39,135.46h5.07v5.06h-5.07zM604.72,145.48h5.07v5.06h-5.07zM609.74,145.48h5.07v5.06h-5.07zM624.79,145.48h5.07v5.06h-5.07zM629.81,145.48h5.07v5.06h-5.07zM639.84,145.48h5.07v5.06h-5.07zM599.7,150.49h5.07v5.06h-5.07zM634.82,150.49h5.07v5.06h-5.07zM634.82,155.5h5.07v5.06h-5.07zM634.82,160.51h5.07v5.06h-5.07zM639.84,160.51h5.07v5.06h-5.07zM629.81,165.52h5.07v5.06h-5.07zM624.79,175.54h5.07v5.06h-5.07zM609.74,180.56h5.07v5.06h-5.07zM639.84,180.56h5.07v5.06h-5.07z"/>
<path fill="#842681" d="M710.09,120.42h5.07v5.06h-5.07zM710.09,150.49h5.07v5.06h-5.07z"/>
<path fill="#fde7a9" d="M710.09,125.43h5.07v5.06h-5.07zM654.9,135.46h5.07v5.06h-5.07z"/>
<path fill="#feb77e" d="M649.88,130.44h5.07v5.06h-5.07zM654.9,130.44h5.07v5.06h-5.07zM659.91,130.44h5.07v5.06h-5.07zM664.93,135.46h5.07v5.06h-5.07zM669.95,135.46h5.07v5.06h-5.07zM654.9,140.47h5.07v5.06h-5.07zM780.34,145.48h5.07v5.06h-5.07z"/>
<path fill="#fa7d5e" d="M710.09,130.44h5.07v5.06h-5.07z"/>
<path fill="#802582" d="M775.32,130.44h5.07v5.06h-5.07zM599.7,145.48h5.07v5.06h-5.07zM644.86,145.48h5.07v5.06h-5.07zM644.86,150.49h5.07v5.06h-5.07zM644.86,155.5h5.07v5.06h-5.07z"/>
<path fill="#f4675c" d="M710.09,135.46h5.07v5.06h-5.07z"/>
<path fill="#942c80" d="M775.32,135.46h5.07v5.06h-5.07zM644.86,160.51h5.07v5.06h-5.07zM644.86,180.56h5.07v5.06h-5.07z"/>
<path fill="#5c167f" d="M710.09,195.59h5.07v5.06h-5.07z"/>
<path fill="#d6456c" d="M710.09,235.68h5.07v5.06h-5.07z"/>
</g>
<clipPath id="c3"><rect x="599.7" y="20.2" width="225.8" height="225.5"/></clipPath>
<g clip-path="url(#c3)">
<circle cx="712.6" cy="132.9" r="112.6" fill="none" stroke="#f5deb3" stroke-width="2.3"/>
</g>
<line x1="712.6" y1="132.9" x2="792.4" y2="53.1" stroke="#f5deb3" stroke-width="2.3"/>
<circle cx="712.6" cy="132.9" r="16.1" fill="none" stroke="#e6e6fa" stroke-width="2.2"/>
<line x1="712.6" y1="132.9" x2="701.2" y2="121.5" stroke="#e6e6fa" stroke-width="2.2"/>
<g fill="#f7ead0" font-weight="bold" font-size="13.7">
<text x="712.6" y="68.8" font-style="italic" textLength="6.0" lengthAdjust="spacingAndGlyphs">r</text>
<rect x="725.3" y="62.9" width="11.2" height="0.9" opacity="0.85"/><rect x="725.3" y="66.4" width="11.2" height="0.9" opacity="0.95"/>
<text x="742.9" y="68.8" textLength="7.1" lengthAdjust="spacingAndGlyphs">3</text>
<text x="751.9" y="68.8">.</text>
<text x="757.0" y="68.8" textLength="7.0" lengthAdjust="spacingAndGlyphs">5</text>
</g>
<g fill="#f4f0fb" font-weight="bold" font-size="13.7">
<text x="661.5" y="110.2" font-style="italic" textLength="6.0" lengthAdjust="spacingAndGlyphs">r</text>
<rect x="674.7" y="104.3" width="11.2" height="0.9" opacity="0.85"/><rect x="674.7" y="107.8" width="11.2" height="0.9" opacity="0.95"/>
<text x="691.6" y="110.2" textLength="7.1" lengthAdjust="spacingAndGlyphs">0</text>
<text x="699.9" y="110.2">.</text>
<text x="705.3" y="110.2" textLength="7.0" lengthAdjust="spacingAndGlyphs">5</text>
</g>
<line x1="596.7" y1="229.7" x2="599.7" y2="229.7" stroke="#1a1a1a" stroke-width="0.9"/>
<text x="594.4" y="234.4" font-size="14.2" text-anchor="end" fill="#444444">−3</text>
<line x1="596.7" y1="197.5" x2="599.7" y2="197.5" stroke="#1a1a1a" stroke-width="0.9"/>
<text x="594.4" y="202.2" font-size="14.2" text-anchor="end" fill="#444444">−2</text>
<line x1="596.7" y1="165.2" x2="599.7" y2="165.2" stroke="#1a1a1a" stroke-width="0.9"/>
<text x="594.4" y="169.9" font-size="14.2" text-anchor="end" fill="#444444">−1</text>
<line x1="596.7" y1="132.9" x2="599.7" y2="132.9" stroke="#1a1a1a" stroke-width="0.9"/>
<text x="594.4" y="137.6" font-size="14.2" text-anchor="end" fill="#444444">0</text>
<line x1="596.7" y1="100.7" x2="599.7" y2="100.7" stroke="#1a1a1a" stroke-width="0.9"/>
<text x="594.4" y="105.4" font-size="14.2" text-anchor="end" fill="#444444">1</text>
<line x1="596.7" y1="68.4" x2="599.7" y2="68.4" stroke="#1a1a1a" stroke-width="0.9"/>
<text x="594.4" y="73.1" font-size="14.2" text-anchor="end" fill="#444444">2</text>
<line x1="596.7" y1="36.2" x2="599.7" y2="36.2" stroke="#1a1a1a" stroke-width="0.9"/>
<text x="594.4" y="40.9" font-size="14.2" text-anchor="end" fill="#444444">3</text>
<line x1="648.1" y1="245.7" x2="648.1" y2="248.7" stroke="#1a1a1a" stroke-width="0.9"/>
<text x="648.1" y="261.5" font-size="14.2" text-anchor="middle" fill="#444444">−2</text>
<line x1="712.6" y1="245.7" x2="712.6" y2="248.7" stroke="#1a1a1a" stroke-width="0.9"/>
<text x="712.6" y="261.5" font-size="14.2" text-anchor="middle" fill="#444444">0</text>
<line x1="777.1" y1="245.7" x2="777.1" y2="248.7" stroke="#1a1a1a" stroke-width="0.9"/>
<text x="777.1" y="261.5" font-size="14.2" text-anchor="middle" fill="#444444">2</text>
<text x="712.6" y="15.7" font-size="14.4" fill="#444444" text-anchor="middle" textLength="64.8" lengthAdjust="spacingAndGlyphs">Gas regions</text>
<text x="712.6" y="276.8" font-size="14.4" fill="#444444" text-anchor="middle" textLength="46.6" lengthAdjust="spacingAndGlyphs"><tspan font-style="italic">x</tspan> in kpc</text>
<text transform="translate(572.3,131.7) rotate(-90)" font-size="14.4" fill="#444444" text-anchor="middle" textLength="48.2" lengthAdjust="spacingAndGlyphs"><tspan font-style="italic">y</tspan> in kpc</text>
</svg>
</body></html>
